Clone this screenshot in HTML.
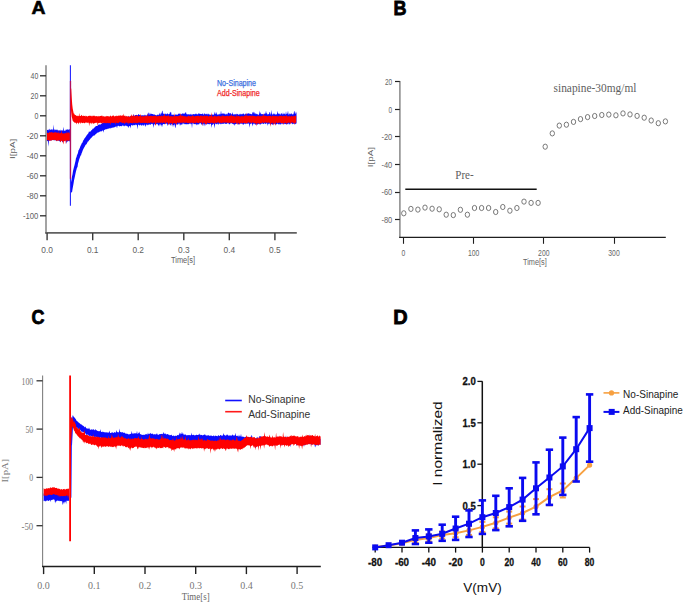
<!DOCTYPE html>
<html><head><meta charset="utf-8"><title>Figure</title>
<style>html,body{margin:0;padding:0;background:#fff;} body{width:685px;height:603px;overflow:hidden;font-family:"Liberation Sans",sans-serif;} svg{display:block;position:absolute;left:0;top:0;}</style>
</head><body>
<svg width="685" height="603" viewBox="0 0 685 603"><text x="31.6" y="14.4" font-family="Liberation Sans" font-size="19" font-weight="bold" fill="#000" text-anchor="start" textLength="14" lengthAdjust="spacingAndGlyphs" stroke="#000" stroke-width="0.6">A</text>
<text x="393.5" y="14.7" font-family="Liberation Sans" font-size="19.5" font-weight="bold" fill="#000" text-anchor="start" textLength="13" lengthAdjust="spacingAndGlyphs" stroke="#000" stroke-width="0.8">B</text>
<text x="31.4" y="324" font-family="Liberation Sans" font-size="20.5" font-weight="bold" fill="#000" text-anchor="start" textLength="13" lengthAdjust="spacingAndGlyphs" stroke="#000" stroke-width="0.8">C</text>
<text x="393.2" y="323.6" font-family="Liberation Sans" font-size="19.5" font-weight="bold" fill="#000" text-anchor="start" textLength="14.4" lengthAdjust="spacingAndGlyphs" stroke="#000" stroke-width="0.8">D</text>
<polygon points="46.9,130.1 47.4,130 47.9,129.7 48.4,130.6 48.9,129 49.4,128.8 49.9,130.5 50.4,129.6 50.9,129.7 51.4,129 51.9,129.9 52.4,128.9 52.9,130.4 53.4,124.4 53.9,129.9 54.4,129.1 54.9,130.4 55.4,129.8 55.9,129.5 56.4,130.2 56.9,129.2 57.4,129.7 57.9,130.4 58.4,130.8 58.9,129.9 59.4,130.2 59.9,130.8 60.4,130.8 60.9,129.5 61.4,131 61.9,130 62.4,130.7 62.9,130.2 63.4,126.8 63.9,131.1 64.4,130.9 64.9,129.9 65.4,131 65.9,129.3 66.4,129.7 66.9,129.7 67.4,129.6 67.9,129.3 68.4,129.4 68.9,129.9 69.4,129.1 69.9,129.6 69.9,141 69.4,141.5 68.9,141 68.4,141 67.9,141.5 67.4,141.6 66.9,141.6 66.4,143.9 65.9,140.2 65.4,140.2 64.9,141.4 64.4,140.8 63.9,140.5 63.4,140.6 62.9,141.8 62.4,142.6 61.9,140.7 61.4,140.3 60.9,141.8 60.4,141.5 59.9,141.8 59.4,141.1 58.9,140.7 58.4,140.2 57.9,141.3 57.4,140.1 56.9,140.2 56.4,141.5 55.9,139.9 55.4,140 54.9,141 54.4,139.7 53.9,139.6 53.4,140.2 52.9,139.8 52.4,140.2 51.9,139.6 51.4,140.8 50.9,140 50.4,140.7 49.9,140.5 49.4,140.6 48.9,140.9 48.4,146.7 47.9,141.3 47.4,141 46.9,141" fill="#0b0bff"/>
<line x1="70.4" y1="65.3" x2="70.4" y2="205.8" stroke="#2020ff" stroke-width="1.1" />
<polygon points="71,182.3 71.5,179.7 72,176.6 72.5,174.3 73,171 73.5,169 74,167.1 74.5,165.3 75,162.9 75.5,160.9 76,158 76.5,157.2 77,155 77.5,154.2 78,152.8 78.5,150.3 79,149.8 79.5,148.5 80,147.5 80.5,145.8 81,145.3 81.5,143.8 82,142.9 82.5,142.4 83,140.9 83.5,140.1 84,139.6 84.5,138.2 85,138 85.5,136.9 86,136.6 86.5,135.6 87,135.1 87.5,134.3 88,133.7 88.5,133 89,131.3 89.5,131.7 90,131.9 90.5,131.3 91,130.9 91.5,129.9 92,130.1 92.5,129.1 93,128.4 93.5,128.7 94,128 94.5,127.5 95,126.9 95.5,126.6 96,126.1 96.5,126 97,126.1 97.5,125.9 98,124.9 98.5,124.7 99,124.5 99.5,124.4 100,124.4 100.5,124.4 101,124.3 101.5,123.8 102,123 102.5,123 103,122.7 103.5,123 104,122.5 104.5,122 105,122 105.5,121.7 106,121.4 106.5,121.7 107,120.2 107.5,120.2 108,120.5 108.5,121.5 109,121.1 109.5,119.1 110,119.9 110.5,120.5 111,120.7 111.5,119.6 112,119.4 112.5,119.5 113,119.7 113.5,118.8 114,119.7 114.5,119 115,119.1 115.5,118.7 116,119 116.5,117.9 117,118.4 117.5,118.7 118,117.8 118.5,117.4 119,117.6 119.5,117.7 120,117.7 120.5,117.4 121,117.2 121.5,117.9 122,116.6 122.5,117.2 123,116.5 123.5,117.6 124,116.9 124.5,116.5 125,117.2 125.5,116.9 126,116.4 126.5,116.5 127,117.6 127.5,117.5 128,116.4 128.5,116.3 129,116.7 129.5,116.8 130,116.2 130.5,115.8 131,117 131.5,116.3 132,115.6 132.5,116.5 133,115.6 133.5,113.7 134,116.5 134.5,115.7 135,115.1 135.5,115 136,115.3 136.5,114.8 137,114.9 137.5,115.5 138,114.8 138.5,113.9 139,114.6 139.5,114.9 140,115 140.5,115.4 141,115.8 141.5,115 142,115.8 142.5,115.1 143,115.6 143.5,114.9 144,115.9 144.5,115.1 145,114.5 145.5,115.6 146,115.5 146.5,115.2 147,115.5 147.5,113.1 148,115.2 148.5,112.8 149,112.4 149.5,115.2 150,112.5 150.5,114.4 151,113.8 151.5,113.7 152,113.9 152.5,114.1 153,114.2 153.5,114.2 154,115 154.5,114 155,115.3 155.5,114.8 156,115.3 156.5,115.4 157,114.8 157.5,115.3 158,113.8 158.5,115.2 159,115.1 159.5,112.6 160,114.7 160.5,114.4 161,112.4 161.5,113.9 162,111.3 162.5,110.5 163,113.8 163.5,113.6 164,113.9 164.5,114.4 165,112.9 165.5,113.9 166,114.2 166.5,114.3 167,113.4 167.5,113.5 168,113.8 168.5,114.4 169,114.1 169.5,113.9 170,112 170.5,112.8 171,111.5 171.5,114.4 172,115.2 172.5,114.7 173,114.3 173.5,114.8 174,114.9 174.5,115.4 175,115.3 175.5,114.6 176,114 176.5,115 177,114.5 177.5,115 178,114.1 178.5,113.7 179,113.4 179.5,113.5 180,114.2 180.5,114.6 181,113.6 181.5,114.4 182,113.8 182.5,113.2 183,113.7 183.5,113.6 184,113.8 184.5,113.5 185,113.5 185.5,112.4 186,112.1 186.5,114.4 187,113.8 187.5,114.4 188,114.5 188.5,114.1 189,114.8 189.5,114.3 190,114.5 190.5,114.6 191,113.6 191.5,114.9 192,114.3 192.5,114.4 193,114.6 193.5,114 194,114 194.5,114.2 195,114.5 195.5,113.4 196,113.9 196.5,113.6 197,114.7 197.5,114 198,114.6 198.5,113.4 199,113.1 199.5,114 200,113.8 200.5,114.1 201,114 201.5,114 202,114.2 202.5,113.4 203,113.6 203.5,114.8 204,114.6 204.5,113 205,114 205.5,114.5 206,113.6 206.5,114.6 207,113.6 207.5,114.1 208,114.9 208.5,113.6 209,113.9 209.5,114.8 210,114.6 210.5,114.8 211,114.9 211.5,114.5 212,114.8 212.5,114.3 213,115 213.5,114.5 214,114.7 214.5,111.4 215,114.2 215.5,114 216,112.1 216.5,113.1 217,114.6 217.5,114.6 218,114.8 218.5,114.1 219,114.9 219.5,113.5 220,114.6 220.5,113.9 221,110.6 221.5,113.8 222,114 222.5,113.5 223,113.2 223.5,113.4 224,114.1 224.5,113.2 225,114.5 225.5,114.5 226,113.4 226.5,113.9 227,114.8 227.5,113.9 228,112.7 228.5,112.6 229,113.2 229.5,113.4 230,113.3 230.5,113.3 231,113.5 231.5,114.6 232,114.5 232.5,112.1 233,114.2 233.5,114.6 234,114.5 234.5,114.4 235,113.7 235.5,114.3 236,114.8 236.5,113.4 237,114.7 237.5,113.7 238,114.1 238.5,114.9 239,114.6 239.5,114.4 240,113.5 240.5,114.1 241,114.8 241.5,113.8 242,114.4 242.5,113.9 243,113.6 243.5,113.6 244,113.9 244.5,114.8 245,114.2 245.5,113.2 246,114.4 246.5,113.6 247,114.2 247.5,113.4 248,113.3 248.5,113.1 249,114.2 249.5,113.5 250,113.4 250.5,114.1 251,114.1 251.5,114.1 252,114.8 252.5,111.8 253,113.1 253.5,111.5 254,114 254.5,111.8 255,114.5 255.5,112.8 256,114.5 256.5,113.8 257,113.7 257.5,114.2 258,114.8 258.5,114.7 259,114.6 259.5,110.6 260,114.6 260.5,112.1 261,113.8 261.5,114 262,114.5 262.5,114.1 263,113.9 263.5,114.5 264,114.4 264.5,113.2 265,114.1 265.5,113.3 266,110.8 266.5,113.6 267,113.2 267.5,114.4 268,114.4 268.5,114.1 269,114.2 269.5,112 270,112.3 270.5,114.2 271,114.7 271.5,109.8 272,114.1 272.5,115 273,113.6 273.5,113.4 274,114.8 274.5,113.7 275,113.5 275.5,114.8 276,114.4 276.5,114.5 277,113.7 277.5,110.8 278,113.7 278.5,113.3 279,114.3 279.5,113.3 280,114.7 280.5,114.5 281,113.2 281.5,113.2 282,113.9 282.5,114.8 283,112.3 283.5,114.5 284,113.6 284.5,113.6 285,114.6 285.5,114.6 286,111.3 286.5,114.2 287,113.8 287.5,113.5 288,110.5 288.5,114.4 289,114.8 289.5,113.8 290,113.3 290.5,114.4 291,113.5 291.5,113.3 292,114.5 292.5,114.2 293,114.5 293.5,114 294,111.7 294.5,110.8 295,114 295.5,113.5 296,111.6 296.5,113.6 296.5,123.1 296,124 295.5,124.2 295,123.3 294.5,124.2 294,123.2 293.5,124.1 293,123.8 292.5,124.5 292,123.2 291.5,123.6 291,123.1 290.5,123.6 290,123.6 289.5,124.2 289,124.7 288.5,123.3 288,123.6 287.5,124.4 287,123.7 286.5,124.5 286,124.3 285.5,123.8 285,124.3 284.5,124 284,123.3 283.5,124.2 283,123.4 282.5,124.5 282,123 281.5,123.7 281,124.4 280.5,124 280,125.1 279.5,124 279,123.7 278.5,124.5 278,124.3 277.5,123.2 277,124 276.5,124.2 276,124.6 275.5,124.6 275,124.5 274.5,123.3 274,124.3 273.5,124.1 273,124.7 272.5,124.8 272,124.1 271.5,124 271,124.4 270.5,124.7 270,123.5 269.5,123.5 269,124.4 268.5,123.9 268,123.3 267.5,126 267,123.1 266.5,123.4 266,123.4 265.5,124.2 265,123.4 264.5,122.9 264,124 263.5,123.7 263,124.2 262.5,123 262,123.9 261.5,123.4 261,123.7 260.5,124.4 260,124.7 259.5,124.1 259,123.4 258.5,124.2 258,123.9 257.5,124.9 257,124 256.5,124 256,124.9 255.5,124.8 255,123.7 254.5,123.4 254,124.8 253.5,123.3 253,124.2 252.5,126.4 252,123.4 251.5,123.3 251,123.8 250.5,123.8 250,124.4 249.5,127.7 249,123.3 248.5,123.5 248,124.1 247.5,123.3 247,124.2 246.5,123.2 246,123.3 245.5,124.4 245,123.3 244.5,123.7 244,124 243.5,124.4 243,125 242.5,123.7 242,123.4 241.5,124.1 241,123.3 240.5,124 240,123.3 239.5,124.6 239,124.2 238.5,124.5 238,124.3 237.5,123.4 237,123.6 236.5,123.5 236,124.2 235.5,124.3 235,123.9 234.5,126.1 234,123.7 233.5,124.6 233,124.3 232.5,123.5 232,124.1 231.5,123.1 231,123.1 230.5,123.4 230,123.8 229.5,124.2 229,124.4 228.5,123 228,123.4 227.5,123.2 227,123.2 226.5,124 226,124.1 225.5,124 225,123.2 224.5,123.2 224,124.1 223.5,123.4 223,124 222.5,123.5 222,124.3 221.5,123.9 221,123.2 220.5,124.6 220,123.8 219.5,123.8 219,123.3 218.5,124.6 218,124.7 217.5,123.6 217,123.7 216.5,124.6 216,123.7 215.5,123.5 215,124.5 214.5,128.6 214,124.5 213.5,123.4 213,124.4 212.5,124.7 212,124.8 211.5,128 211,123.9 210.5,123.7 210,124.1 209.5,124.5 209,124 208.5,124.3 208,124 207.5,123.8 207,124.4 206.5,124.6 206,123.9 205.5,124.1 205,126.5 204.5,124.7 204,123.6 203.5,123.9 203,126.5 202.5,123.7 202,124.6 201.5,124.4 201,124.2 200.5,123.1 200,123.1 199.5,123.6 199,124.6 198.5,124.3 198,124.5 197.5,124.1 197,125.6 196.5,124.4 196,124.3 195.5,124.2 195,123.9 194.5,124.1 194,124.5 193.5,123.4 193,123.3 192.5,123.6 192,128.4 191.5,123.6 191,124.4 190.5,123.4 190,123.5 189.5,123.5 189,124.3 188.5,124.3 188,124 187.5,124.4 187,123.7 186.5,124.4 186,124.2 185.5,124.1 185,124.4 184.5,123.5 184,124.5 183.5,123.3 183,123.5 182.5,123.4 182,125.3 181.5,124.2 181,124.6 180.5,124.4 180,126.1 179.5,123.8 179,123.3 178.5,123.8 178,124.7 177.5,124.6 177,124.4 176.5,123.5 176,124.4 175.5,128.3 175,126.9 174.5,124.1 174,125.1 173.5,125 173,127.3 172.5,124.5 172,124.1 171.5,124.1 171,126.3 170.5,124.6 170,125 169.5,124.3 169,123.4 168.5,124.4 168,123.7 167.5,126.2 167,124 166.5,123.5 166,123.5 165.5,123.4 165,124.3 164.5,124.3 164,124.1 163.5,124.1 163,124.2 162.5,124.9 162,127.5 161.5,124.5 161,126.1 160.5,124.2 160,124.3 159.5,124.6 159,126.4 158.5,125.2 158,124.9 157.5,123.9 157,123.8 156.5,124.4 156,123.8 155.5,124.7 155,125 154.5,124.1 154,124.3 153.5,128.1 153,124.9 152.5,123.7 152,124 151.5,123.8 151,124.3 150.5,124.8 150,124.8 149.5,123.9 149,125.3 148.5,124.7 148,124.3 147.5,125.4 147,124.8 146.5,124.2 146,125.7 145.5,127 145,124.5 144.5,124.6 144,125.9 143.5,125.2 143,125.3 142.5,124.6 142,125.9 141.5,125.2 141,125.4 140.5,124.6 140,125.3 139.5,125.4 139,125.1 138.5,124.4 138,125.3 137.5,129.5 137,125.3 136.5,124.4 136,125.4 135.5,124.4 135,124.8 134.5,125.3 134,125.2 133.5,124.8 133,125.8 132.5,125.5 132,125.1 131.5,125.1 131,125.8 130.5,128.4 130,126 129.5,126.2 129,125.9 128.5,128.2 128,126.4 127.5,126.4 127,125.8 126.5,126.2 126,125.2 125.5,126.1 125,125.3 124.5,126.2 124,126.3 123.5,126.1 123,125.1 122.5,125.4 122,126.2 121.5,126.2 121,126 120.5,126.1 120,126.2 119.5,126.5 119,126.1 118.5,125.8 118,125.8 117.5,126 117,128.6 116.5,126.3 116,126.5 115.5,126.8 115,126.8 114.5,127.2 114,127.5 113.5,127.6 113,127.6 112.5,127.6 112,128.3 111.5,128.1 111,127.6 110.5,128.6 110,128.5 109.5,128 109,128.8 108.5,128.3 108,129.3 107.5,128.6 107,129.2 106.5,129.1 106,129.6 105.5,129.3 105,129.6 104.5,129.9 104,130 103.5,132.7 103,130.2 102.5,130.4 102,131.2 101.5,131.3 101,131.6 100.5,131.2 100,131.6 99.5,131.7 99,132.3 98.5,132.3 98,132.8 97.5,132.6 97,133 96.5,133.5 96,134 95.5,134.2 95,135 94.5,135.4 94,135.6 93.5,135.8 93,135.8 92.5,136.6 92,137.2 91.5,137.8 91,137.8 90.5,138.7 90,139.3 89.5,140 89,140.3 88.5,141.4 88,141.3 87.5,142.2 87,143.2 86.5,144.2 86,144.5 85.5,145 85,146 84.5,147.1 84,147.8 83.5,148.7 83,149.7 82.5,150.9 82,152.5 81.5,153.6 81,155.6 80.5,155.6 80,157.3 79.5,158.4 79,159.9 78.5,162.1 78,163.6 77.5,167.2 77,167.4 76.5,169.4 76,171.3 75.5,173.5 75,176.1 74.5,178.2 74,180.5 73.5,183.7 73,186.5 72.5,189.2 72,192.4 71.5,192.2 71,192.4" fill="#0b0bff"/>
<polygon points="46.9,133.1 47.4,133.1 47.9,132.4 48.4,132.9 48.9,133.2 49.4,132.1 49.9,131.9 50.4,132.4 50.9,132.5 51.4,131.9 51.9,132.2 52.4,132.4 52.9,132.6 53.4,132.8 53.9,132.7 54.4,131.7 54.9,133 55.4,132.2 55.9,132 56.4,132.7 56.9,132.5 57.4,132.6 57.9,133 58.4,133.3 58.9,130.5 59.4,133.5 59.9,133.2 60.4,133.1 60.9,133.1 61.4,130.3 61.9,132.8 62.4,133.4 62.9,133.3 63.4,133.6 63.9,133.4 64.4,133.3 64.9,133.5 65.4,133.1 65.9,133 66.4,133.4 66.9,131 67.4,133.3 67.9,132.4 68.4,132.2 68.9,132.7 69.4,133.3 69.9,132.7 69.9,140.4 69.4,140.2 68.9,140.9 68.4,140.7 67.9,140.4 67.4,140.7 66.9,140.3 66.4,141.2 65.9,144.1 65.4,140.3 64.9,141.3 64.4,140.8 63.9,140.9 63.4,144.6 62.9,142.5 62.4,141.1 61.9,140.7 61.4,140.7 60.9,141.6 60.4,142.6 59.9,140.6 59.4,140.2 58.9,140.8 58.4,140.4 57.9,140.4 57.4,140.7 56.9,140.8 56.4,140.7 55.9,140.8 55.4,139.9 54.9,139.8 54.4,140.1 53.9,140 53.4,140.2 52.9,140.1 52.4,139.8 51.9,140.5 51.4,140.6 50.9,140.2 50.4,140.7 49.9,140.8 49.4,140.8 48.9,140.2 48.4,140.5 47.9,140.1 47.4,140.3 46.9,140.9" fill="#ff0000"/>
<line x1="70.5" y1="178.8" x2="70.5" y2="80.8" stroke="#b01060" stroke-width="1.3" />
<polygon points="70.7,88.7 71.2,88.6 71.7,97 72.2,104.3 72.7,108.6 73.2,111.1 73.7,113.4 74.2,113.5 74.7,114.7 75.2,115.1 75.7,115.1 76.2,116 76.7,115.4 77.2,116.2 77.7,115.6 78.2,115.9 78.7,116.2 79.2,112.9 79.7,115.9 80.2,116.1 80.7,115.9 81.2,115.3 81.7,114.8 82.2,116.2 82.7,115.7 83.2,116 83.7,115.6 84.2,116 84.7,116.1 85.2,115.4 85.7,116.4 86.2,116.2 86.7,115.7 87.2,116.4 87.7,116.4 88.2,115.8 88.7,116 89.2,116.1 89.7,115.5 90.2,116.1 90.7,115.5 91.2,116.4 91.7,115.7 92.2,115.5 92.7,116.6 93.2,115.5 93.7,116.1 94.2,115.5 94.7,116 95.2,116.5 95.7,116.1 96.2,116.3 96.7,116.1 97.2,116.3 97.7,116.5 98.2,115.8 98.7,116.4 99.2,116.4 99.7,116 100.2,116.1 100.7,115.9 101.2,115.6 101.7,115.9 102.2,115.6 102.7,116.6 103.2,116.3 103.7,116.3 104.2,116.3 104.7,116.7 105.2,116.5 105.7,116.4 106.2,115.8 106.7,116.6 107.2,116 107.7,116.2 108.2,116 108.7,116.6 109.2,116.5 109.7,116.6 110.2,115.7 110.7,115.6 111.2,116.6 111.7,116.5 112.2,115.6 112.7,116.1 113.2,115.5 113.7,115.5 114.2,116.3 114.7,116.4 115.2,116.3 115.7,115.8 116.2,116.2 116.7,115.5 117.2,115.8 117.7,116.3 118.2,115.6 118.7,115.8 119.2,115.6 119.7,115.8 120.2,115.4 120.7,115.2 121.2,115.9 121.7,115.5 122.2,115.5 122.7,115.3 123.2,116 123.7,113.5 124.2,115.9 124.7,115.8 125.2,115.5 125.7,116.4 126.2,116.6 126.7,115.7 127.2,116.7 127.7,116.3 128.2,115.8 128.7,116.7 129.2,116.7 129.7,116.7 130.2,116.4 130.7,115.7 131.2,115.8 131.7,114.1 132.2,116.5 132.7,115.6 133.2,116.6 133.7,114.2 134.2,115.7 134.7,116.1 135.2,116.4 135.7,115.6 136.2,115.8 136.7,115.4 137.2,115.5 137.7,115.5 138.2,116.4 138.7,116.3 139.2,115.7 139.7,116 140.2,115.8 140.7,113.7 141.2,116.3 141.7,116.4 142.2,116.5 142.7,115.9 143.2,115.8 143.7,116.6 144.2,116.7 144.7,115.7 145.2,115.9 145.7,115.6 146.2,115.9 146.7,115.9 147.2,116.6 147.7,114 148.2,115.6 148.7,116.4 149.2,115.9 149.7,116.1 150.2,116 150.7,115.6 151.2,116.3 151.7,115.6 152.2,116 152.7,116.2 153.2,115.8 153.7,115.9 154.2,116.2 154.7,115.8 155.2,115.5 155.7,115.4 156.2,116 156.7,116.5 157.2,116.5 157.7,115.7 158.2,116.1 158.7,116.3 159.2,115.8 159.7,116.1 160.2,115.7 160.7,116.5 161.2,115.9 161.7,115.5 162.2,116.1 162.7,116.4 163.2,115.4 163.7,115.9 164.2,113.6 164.7,115.3 165.2,115.8 165.7,116.3 166.2,116.1 166.7,115.7 167.2,115.6 167.7,116.4 168.2,114.8 168.7,116 169.2,116.4 169.7,116.2 170.2,116 170.7,116.6 171.2,116.1 171.7,116.2 172.2,115.9 172.7,116.8 173.2,116.4 173.7,116.2 174.2,112.9 174.7,116.6 175.2,116.3 175.7,116 176.2,116.2 176.7,115.9 177.2,116.1 177.7,116.2 178.2,116.3 178.7,115.7 179.2,115.9 179.7,115.4 180.2,115.4 180.7,113.1 181.2,115.9 181.7,115.4 182.2,115.7 182.7,115.5 183.2,116 183.7,116.3 184.2,116.1 184.7,116.2 185.2,116.4 185.7,116.3 186.2,116.5 186.7,116.5 187.2,116.4 187.7,116.4 188.2,115.6 188.7,115.9 189.2,116.3 189.7,116.3 190.2,116 190.7,116.4 191.2,116.3 191.7,116.3 192.2,115.5 192.7,115.5 193.2,115.8 193.7,116 194.2,116.4 194.7,116.5 195.2,116.1 195.7,115.9 196.2,116.1 196.7,116 197.2,116.1 197.7,115.7 198.2,115.8 198.7,115.8 199.2,116.2 199.7,116.2 200.2,115.5 200.7,115.5 201.2,116.3 201.7,115.4 202.2,115.5 202.7,116.2 203.2,116.2 203.7,116.1 204.2,116 204.7,114.5 205.2,116.6 205.7,115.9 206.2,115.8 206.7,115.8 207.2,115.8 207.7,115.7 208.2,116.4 208.7,116.6 209.2,115.8 209.7,116.1 210.2,115.6 210.7,115.9 211.2,116.1 211.7,112.1 212.2,116.6 212.7,116.5 213.2,116.6 213.7,116.4 214.2,115.6 214.7,115.8 215.2,116.2 215.7,116.3 216.2,116.6 216.7,116.2 217.2,115.9 217.7,116.6 218.2,115.5 218.7,116 219.2,116.6 219.7,115.7 220.2,116.4 220.7,116.2 221.2,116.3 221.7,116.3 222.2,114.6 222.7,116.4 223.2,115.7 223.7,115.7 224.2,116.2 224.7,116.3 225.2,115.8 225.7,116.2 226.2,115.7 226.7,116.3 227.2,115.8 227.7,115.8 228.2,115.8 228.7,116.5 229.2,116.1 229.7,115.8 230.2,115.6 230.7,116.1 231.2,114.1 231.7,116.1 232.2,115.8 232.7,116 233.2,116.3 233.7,115.7 234.2,115.5 234.7,116.5 235.2,116.4 235.7,116.4 236.2,116.5 236.7,114.5 237.2,116 237.7,116.5 238.2,116.1 238.7,115.7 239.2,115.9 239.7,116.4 240.2,116.6 240.7,116.4 241.2,116.2 241.7,116 242.2,115.7 242.7,116.4 243.2,116.5 243.7,116.3 244.2,115.9 244.7,115.5 245.2,116 245.7,115.4 246.2,112.6 246.7,116.4 247.2,115.5 247.7,115.8 248.2,115.8 248.7,116 249.2,115.4 249.7,115.8 250.2,115.6 250.7,116 251.2,115.4 251.7,116.2 252.2,115.6 252.7,115.8 253.2,115.9 253.7,116.1 254.2,116 254.7,116.1 255.2,116.1 255.7,116.6 256.2,116.8 256.7,116.1 257.2,115.7 257.7,116.2 258.2,114.9 258.7,116.4 259.2,116 259.7,116.3 260.2,116.4 260.7,115.5 261.2,116.4 261.7,115.8 262.2,115.8 262.7,115.9 263.2,113.2 263.7,116.1 264.2,115.6 264.7,115.8 265.2,115.8 265.7,116 266.2,115.7 266.7,116 267.2,116.2 267.7,116.2 268.2,115.9 268.7,115.7 269.2,115.9 269.7,116 270.2,115.7 270.7,115.7 271.2,116.6 271.7,116.5 272.2,115.6 272.7,115.7 273.2,116.3 273.7,115.5 274.2,116.6 274.7,115.8 275.2,116 275.7,116.1 276.2,115.8 276.7,116.4 277.2,115.6 277.7,116.4 278.2,116.2 278.7,116.2 279.2,116.1 279.7,115.7 280.2,115.9 280.7,115.8 281.2,115.8 281.7,115.8 282.2,115.9 282.7,116.4 283.2,115.7 283.7,115.8 284.2,115.9 284.7,115.8 285.2,116.6 285.7,116 286.2,115.7 286.7,114.7 287.2,116.6 287.7,116.3 288.2,116.5 288.7,116.1 289.2,115.5 289.7,116.5 290.2,116.4 290.7,116.4 291.2,116.2 291.7,115.5 292.2,116.4 292.7,116.2 293.2,116.4 293.7,115.3 294.2,116.4 294.7,115.9 295.2,115.7 295.7,115.4 296.2,115.4 296.2,122.7 295.7,123.3 295.2,122.3 294.7,125.3 294.2,122.6 293.7,123.2 293.2,123 292.7,122.2 292.2,122.7 291.7,122.8 291.2,122.3 290.7,124.4 290.2,122.6 289.7,123.1 289.2,122.5 288.7,122.5 288.2,122.8 287.7,123 287.2,123.1 286.7,124.9 286.2,122.6 285.7,123.3 285.2,122.6 284.7,123.2 284.2,122.8 283.7,125.3 283.2,122.8 282.7,123 282.2,123.1 281.7,123.3 281.2,123.2 280.7,122.5 280.2,123 279.7,122.3 279.2,123.2 278.7,122.9 278.2,122.4 277.7,123.3 277.2,123.1 276.7,122.5 276.2,122.5 275.7,123.1 275.2,126 274.7,123.3 274.2,122.6 273.7,125.7 273.2,123.1 272.7,123.5 272.2,122.6 271.7,123 271.2,123.5 270.7,127 270.2,123 269.7,122.9 269.2,122.8 268.7,122.6 268.2,122.6 267.7,123.2 267.2,122.4 266.7,122.8 266.2,122.4 265.7,122.6 265.2,122.5 264.7,122.3 264.2,123.1 263.7,123 263.2,123.1 262.7,122.2 262.2,122.5 261.7,123.2 261.2,123.1 260.7,122.9 260.2,123.5 259.7,123.4 259.2,124.2 258.7,123.5 258.2,122.8 257.7,123.5 257.2,123.2 256.7,126.4 256.2,123 255.7,123.6 255.2,123.3 254.7,123.2 254.2,122.9 253.7,122.6 253.2,123 252.7,122.4 252.2,122.4 251.7,122.8 251.2,123.4 250.7,122.5 250.2,122.7 249.7,123.2 249.2,122.4 248.7,122.4 248.2,122.3 247.7,122.7 247.2,123.3 246.7,123.7 246.2,123 245.7,123.2 245.2,123.3 244.7,123.1 244.2,123.1 243.7,122.4 243.2,123 242.7,123.4 242.2,123 241.7,123.1 241.2,122.5 240.7,123.1 240.2,123.2 239.7,124.4 239.2,123.4 238.7,123.4 238.2,122.7 237.7,122.4 237.2,125.3 236.7,123.2 236.2,123.4 235.7,122.5 235.2,122.6 234.7,123 234.2,123.4 233.7,123.2 233.2,123.1 232.7,123 232.2,122.6 231.7,123.3 231.2,122.6 230.7,122.7 230.2,122.8 229.7,123 229.2,122.8 228.7,122.4 228.2,123.2 227.7,122.7 227.2,122.8 226.7,122.8 226.2,122.3 225.7,122.4 225.2,123 224.7,122.3 224.2,122.7 223.7,123.1 223.2,122.3 222.7,122.8 222.2,122.8 221.7,123.2 221.2,122.8 220.7,122.8 220.2,122.7 219.7,123.3 219.2,123.1 218.7,122.6 218.2,122.5 217.7,122.5 217.2,122.5 216.7,123.2 216.2,123.1 215.7,122.6 215.2,122.5 214.7,123.3 214.2,124.1 213.7,122.7 213.2,122.9 212.7,123.2 212.2,122.8 211.7,122.4 211.2,123 210.7,123.2 210.2,122.7 209.7,123.2 209.2,123.3 208.7,122.9 208.2,123.2 207.7,122.3 207.2,123.2 206.7,124.5 206.2,123.4 205.7,124.4 205.2,123.4 204.7,123.4 204.2,122.4 203.7,122.9 203.2,122.6 202.7,126 202.2,122.7 201.7,122.6 201.2,122.8 200.7,122.6 200.2,123.1 199.7,122.3 199.2,123.1 198.7,123.1 198.2,123.2 197.7,122.9 197.2,122.7 196.7,122.3 196.2,122.7 195.7,123.4 195.2,123.2 194.7,122.6 194.2,123.1 193.7,123.3 193.2,123.3 192.7,122.9 192.2,122.6 191.7,122.9 191.2,122.6 190.7,123.3 190.2,122.5 189.7,123.3 189.2,122.8 188.7,122.7 188.2,123.4 187.7,123 187.2,123.1 186.7,122.4 186.2,122.6 185.7,123.1 185.2,122.8 184.7,122.9 184.2,122.4 183.7,122.7 183.2,122.3 182.7,123.3 182.2,122.6 181.7,122.4 181.2,123 180.7,122.5 180.2,123.2 179.7,122.4 179.2,122.8 178.7,123.2 178.2,122.5 177.7,122.6 177.2,122.7 176.7,123 176.2,125.4 175.7,123.5 175.2,123.5 174.7,123 174.2,123.3 173.7,122.9 173.2,123.2 172.7,123.6 172.2,125.4 171.7,123 171.2,122.8 170.7,123.4 170.2,123.1 169.7,122.9 169.2,123.4 168.7,125.6 168.2,123.3 167.7,123.3 167.2,122.3 166.7,122.4 166.2,122.5 165.7,123.2 165.2,124.6 164.7,122.2 164.2,123.1 163.7,122.5 163.2,122.5 162.7,123 162.2,123.3 161.7,122.5 161.2,122.5 160.7,123.3 160.2,122.4 159.7,122.4 159.2,123 158.7,123.2 158.2,122.5 157.7,122.4 157.2,123 156.7,123.2 156.2,122.6 155.7,125.9 155.2,124.4 154.7,122.4 154.2,122.3 153.7,123.3 153.2,122.2 152.7,123.6 152.2,122.8 151.7,122.7 151.2,122.6 150.7,122.4 150.2,122.4 149.7,123.3 149.2,123 148.7,122.4 148.2,123.3 147.7,123.4 147.2,122.9 146.7,123.1 146.2,122.7 145.7,123 145.2,123 144.7,122.8 144.2,123.1 143.7,123 143.2,122.6 142.7,123.1 142.2,123 141.7,123.1 141.2,122.8 140.7,123.2 140.2,122.7 139.7,122.5 139.2,122.6 138.7,122.4 138.2,123 137.7,122.7 137.2,123.3 136.7,122.9 136.2,122.9 135.7,122.6 135.2,123.2 134.7,122.7 134.2,123.4 133.7,122.4 133.2,122.8 132.7,123.5 132.2,123.3 131.7,123 131.2,123.1 130.7,123 130.2,122.8 129.7,123.3 129.2,123.2 128.7,122.6 128.2,124.9 127.7,123.1 127.2,122.7 126.7,122.5 126.2,122.7 125.7,122.4 125.2,123.2 124.7,124.2 124.2,123 123.7,122.6 123.2,123.1 122.7,123.2 122.2,122.9 121.7,122.4 121.2,122.5 120.7,122.6 120.2,122.1 119.7,122.4 119.2,122.1 118.7,123.1 118.2,123.2 117.7,123.1 117.2,123.2 116.7,122.2 116.2,123.3 115.7,122.6 115.2,124.9 114.7,122.6 114.2,122.7 113.7,123 113.2,123.1 112.7,122.8 112.2,122.9 111.7,123 111.2,122.5 110.7,125.4 110.2,122.8 109.7,123.2 109.2,123 108.7,123.1 108.2,123.4 107.7,123 107.2,122.7 106.7,123.4 106.2,122.9 105.7,122.9 105.2,123.3 104.7,122.8 104.2,123.4 103.7,122.8 103.2,122.9 102.7,122.6 102.2,124.5 101.7,123 101.2,123 100.7,122.6 100.2,123.3 99.7,122.9 99.2,122.8 98.7,123.2 98.2,123.1 97.7,126.1 97.2,122.6 96.7,122.9 96.2,122.4 95.7,123.1 95.2,122.8 94.7,123.3 94.2,123.2 93.7,123.9 93.2,123.3 92.7,123.4 92.2,122.6 91.7,122.9 91.2,124.6 90.7,122.4 90.2,123.4 89.7,123 89.2,126.2 88.7,122.4 88.2,122.7 87.7,123.1 87.2,122.6 86.7,122.6 86.2,122.8 85.7,122.5 85.2,122.8 84.7,123.3 84.2,123.3 83.7,122.8 83.2,122.8 82.7,123.2 82.2,123.1 81.7,122.4 81.2,122.8 80.7,124 80.2,122.5 79.7,122.6 79.2,122.8 78.7,124.6 78.2,122.9 77.7,122.8 77.2,122.8 76.7,124.6 76.2,123.1 75.7,122.7 75.2,122.8 74.7,122.9 74.2,122.1 73.7,121.7 73.2,121.5 72.7,120.7 72.2,118.5 71.7,116.7 71.2,112.5 70.7,107.1" fill="#ff0000"/>
<line x1="46" y1="65.3" x2="46" y2="233.5" stroke="#858585" stroke-width="1.5" />
<line x1="45.2" y1="232.8" x2="296.8" y2="232.8" stroke="#606060" stroke-width="1.7" />
<line x1="40" y1="75.8" x2="46" y2="75.8" stroke="#2a2a2a" stroke-width="1.3" />
<text x="38.3" y="79.1" font-family="Liberation Sans" font-size="9" font-weight="normal" fill="#606060" text-anchor="end" textLength="7.7" lengthAdjust="spacingAndGlyphs" >40</text>
<line x1="40" y1="95.8" x2="46" y2="95.8" stroke="#2a2a2a" stroke-width="1.3" />
<text x="38.3" y="99.1" font-family="Liberation Sans" font-size="9" font-weight="normal" fill="#606060" text-anchor="end" textLength="7.7" lengthAdjust="spacingAndGlyphs" >20</text>
<line x1="40" y1="115.8" x2="46" y2="115.8" stroke="#2a2a2a" stroke-width="1.3" />
<text x="38.3" y="119.1" font-family="Liberation Sans" font-size="9" font-weight="normal" fill="#606060" text-anchor="end" textLength="3.9" lengthAdjust="spacingAndGlyphs" >0</text>
<line x1="40" y1="135.8" x2="46" y2="135.8" stroke="#2a2a2a" stroke-width="1.3" />
<text x="38.3" y="139.2" font-family="Liberation Sans" font-size="9" font-weight="normal" fill="#606060" text-anchor="end" textLength="11.6" lengthAdjust="spacingAndGlyphs" >-20</text>
<line x1="40" y1="155.8" x2="46" y2="155.8" stroke="#2a2a2a" stroke-width="1.3" />
<text x="38.3" y="159.2" font-family="Liberation Sans" font-size="9" font-weight="normal" fill="#606060" text-anchor="end" textLength="11.6" lengthAdjust="spacingAndGlyphs" >-40</text>
<line x1="40" y1="175.8" x2="46" y2="175.8" stroke="#2a2a2a" stroke-width="1.3" />
<text x="38.3" y="179.2" font-family="Liberation Sans" font-size="9" font-weight="normal" fill="#606060" text-anchor="end" textLength="11.6" lengthAdjust="spacingAndGlyphs" >-60</text>
<line x1="40" y1="195.8" x2="46" y2="195.8" stroke="#2a2a2a" stroke-width="1.3" />
<text x="38.3" y="199.2" font-family="Liberation Sans" font-size="9" font-weight="normal" fill="#606060" text-anchor="end" textLength="11.6" lengthAdjust="spacingAndGlyphs" >-80</text>
<line x1="40" y1="215.8" x2="46" y2="215.8" stroke="#2a2a2a" stroke-width="1.3" />
<text x="38.3" y="219.2" font-family="Liberation Sans" font-size="9" font-weight="normal" fill="#606060" text-anchor="end" textLength="15.4" lengthAdjust="spacingAndGlyphs" >-100</text>
<line x1="47.1" y1="233" x2="47.1" y2="240.2" stroke="#3a3a3a" stroke-width="1.4" />
<text x="47.1" y="252.8" font-family="Liberation Sans" font-size="9.5" font-weight="normal" fill="#606060" text-anchor="middle" textLength="11.6" lengthAdjust="spacingAndGlyphs" >0.0</text>
<line x1="92.7" y1="233" x2="92.7" y2="240.2" stroke="#3a3a3a" stroke-width="1.4" />
<text x="92.7" y="252.8" font-family="Liberation Sans" font-size="9.5" font-weight="normal" fill="#606060" text-anchor="middle" textLength="11.6" lengthAdjust="spacingAndGlyphs" >0.1</text>
<line x1="138.2" y1="233" x2="138.2" y2="240.2" stroke="#3a3a3a" stroke-width="1.4" />
<text x="138.2" y="252.8" font-family="Liberation Sans" font-size="9.5" font-weight="normal" fill="#606060" text-anchor="middle" textLength="11.6" lengthAdjust="spacingAndGlyphs" >0.2</text>
<line x1="183.8" y1="233" x2="183.8" y2="240.2" stroke="#3a3a3a" stroke-width="1.4" />
<text x="183.8" y="252.8" font-family="Liberation Sans" font-size="9.5" font-weight="normal" fill="#606060" text-anchor="middle" textLength="11.6" lengthAdjust="spacingAndGlyphs" >0.3</text>
<line x1="229.3" y1="233" x2="229.3" y2="240.2" stroke="#3a3a3a" stroke-width="1.4" />
<text x="229.3" y="252.8" font-family="Liberation Sans" font-size="9.5" font-weight="normal" fill="#606060" text-anchor="middle" textLength="11.6" lengthAdjust="spacingAndGlyphs" >0.4</text>
<line x1="274.9" y1="233" x2="274.9" y2="240.2" stroke="#3a3a3a" stroke-width="1.4" />
<text x="274.9" y="252.8" font-family="Liberation Sans" font-size="9.5" font-weight="normal" fill="#606060" text-anchor="middle" textLength="11.6" lengthAdjust="spacingAndGlyphs" >0.5</text>
<text x="171" y="263" font-family="Liberation Sans" font-size="8.5" font-weight="normal" fill="#606060" text-anchor="start" textLength="24" lengthAdjust="spacingAndGlyphs" >Time[s]</text>
<text transform="translate(14.7,159) rotate(-90)" font-family="Liberation Sans" font-size="7.5" font-weight="normal" fill="#606060" textLength="20.3" lengthAdjust="spacingAndGlyphs">I[pA]</text>
<text x="217" y="86.4" font-family="Liberation Sans" font-size="8.4" font-weight="normal" fill="#3c6fe0" text-anchor="start" textLength="39" lengthAdjust="spacingAndGlyphs" stroke="#3c6fe0" stroke-width="0.25">No-Sinapine</text>
<text x="217" y="96.4" font-family="Liberation Sans" font-size="8.4" font-weight="normal" fill="#f02828" text-anchor="start" textLength="42.7" lengthAdjust="spacingAndGlyphs" stroke="#f02828" stroke-width="0.25">Add-Sinapine</text>
<ellipse cx="403.8" cy="213.3" rx="2.2" ry="2.6" fill="none" stroke="#6a6a6a" stroke-width="0.9"/>
<ellipse cx="410.9" cy="208.9" rx="2.2" ry="2.6" fill="none" stroke="#6a6a6a" stroke-width="0.9"/>
<ellipse cx="417.9" cy="209.6" rx="2.2" ry="2.6" fill="none" stroke="#6a6a6a" stroke-width="0.9"/>
<ellipse cx="425" cy="207.6" rx="2.2" ry="2.6" fill="none" stroke="#6a6a6a" stroke-width="0.9"/>
<ellipse cx="432.1" cy="208.7" rx="2.2" ry="2.6" fill="none" stroke="#6a6a6a" stroke-width="0.9"/>
<ellipse cx="439.2" cy="209.3" rx="2.2" ry="2.6" fill="none" stroke="#6a6a6a" stroke-width="0.9"/>
<ellipse cx="446.2" cy="214.7" rx="2.2" ry="2.6" fill="none" stroke="#6a6a6a" stroke-width="0.9"/>
<ellipse cx="453.3" cy="215.1" rx="2.2" ry="2.6" fill="none" stroke="#6a6a6a" stroke-width="0.9"/>
<ellipse cx="460.4" cy="209.8" rx="2.2" ry="2.6" fill="none" stroke="#6a6a6a" stroke-width="0.9"/>
<ellipse cx="467.4" cy="214.7" rx="2.2" ry="2.6" fill="none" stroke="#6a6a6a" stroke-width="0.9"/>
<ellipse cx="474.5" cy="208" rx="2.2" ry="2.6" fill="none" stroke="#6a6a6a" stroke-width="0.9"/>
<ellipse cx="481.6" cy="208" rx="2.2" ry="2.6" fill="none" stroke="#6a6a6a" stroke-width="0.9"/>
<ellipse cx="488.6" cy="208" rx="2.2" ry="2.6" fill="none" stroke="#6a6a6a" stroke-width="0.9"/>
<ellipse cx="495.7" cy="212" rx="2.2" ry="2.6" fill="none" stroke="#6a6a6a" stroke-width="0.9"/>
<ellipse cx="502.8" cy="207" rx="2.2" ry="2.6" fill="none" stroke="#6a6a6a" stroke-width="0.9"/>
<ellipse cx="509.9" cy="210.7" rx="2.2" ry="2.6" fill="none" stroke="#6a6a6a" stroke-width="0.9"/>
<ellipse cx="516.9" cy="208" rx="2.2" ry="2.6" fill="none" stroke="#6a6a6a" stroke-width="0.9"/>
<ellipse cx="524" cy="201.6" rx="2.2" ry="2.6" fill="none" stroke="#6a6a6a" stroke-width="0.9"/>
<ellipse cx="531.1" cy="202.9" rx="2.2" ry="2.6" fill="none" stroke="#6a6a6a" stroke-width="0.9"/>
<ellipse cx="538.1" cy="202.9" rx="2.2" ry="2.6" fill="none" stroke="#6a6a6a" stroke-width="0.9"/>
<ellipse cx="545.2" cy="146.7" rx="2.2" ry="2.6" fill="none" stroke="#6a6a6a" stroke-width="0.9"/>
<ellipse cx="552.3" cy="133.4" rx="2.2" ry="2.6" fill="none" stroke="#6a6a6a" stroke-width="0.9"/>
<ellipse cx="559.3" cy="125.6" rx="2.2" ry="2.6" fill="none" stroke="#6a6a6a" stroke-width="0.9"/>
<ellipse cx="566.4" cy="124.7" rx="2.2" ry="2.6" fill="none" stroke="#6a6a6a" stroke-width="0.9"/>
<ellipse cx="573.5" cy="121.9" rx="2.2" ry="2.6" fill="none" stroke="#6a6a6a" stroke-width="0.9"/>
<ellipse cx="580.5" cy="119.1" rx="2.2" ry="2.6" fill="none" stroke="#6a6a6a" stroke-width="0.9"/>
<ellipse cx="587.6" cy="117.1" rx="2.2" ry="2.6" fill="none" stroke="#6a6a6a" stroke-width="0.9"/>
<ellipse cx="594.7" cy="116" rx="2.2" ry="2.6" fill="none" stroke="#6a6a6a" stroke-width="0.9"/>
<ellipse cx="601.8" cy="115" rx="2.2" ry="2.6" fill="none" stroke="#6a6a6a" stroke-width="0.9"/>
<ellipse cx="608.8" cy="114.6" rx="2.2" ry="2.6" fill="none" stroke="#6a6a6a" stroke-width="0.9"/>
<ellipse cx="615.9" cy="115.3" rx="2.2" ry="2.6" fill="none" stroke="#6a6a6a" stroke-width="0.9"/>
<ellipse cx="623" cy="113.4" rx="2.2" ry="2.6" fill="none" stroke="#6a6a6a" stroke-width="0.9"/>
<ellipse cx="630" cy="114.4" rx="2.2" ry="2.6" fill="none" stroke="#6a6a6a" stroke-width="0.9"/>
<ellipse cx="637.1" cy="115.9" rx="2.2" ry="2.6" fill="none" stroke="#6a6a6a" stroke-width="0.9"/>
<ellipse cx="644.2" cy="117.7" rx="2.2" ry="2.6" fill="none" stroke="#6a6a6a" stroke-width="0.9"/>
<ellipse cx="651.2" cy="120.5" rx="2.2" ry="2.6" fill="none" stroke="#6a6a6a" stroke-width="0.9"/>
<ellipse cx="658.3" cy="123.2" rx="2.2" ry="2.6" fill="none" stroke="#6a6a6a" stroke-width="0.9"/>
<ellipse cx="665.4" cy="121.4" rx="2.2" ry="2.6" fill="none" stroke="#6a6a6a" stroke-width="0.9"/>
<line x1="405.3" y1="189.2" x2="536.7" y2="189.2" stroke="#111" stroke-width="1.6" />
<text x="455.3" y="179.2" font-family="Liberation Serif" font-size="12" font-weight="normal" fill="#606060" text-anchor="start" textLength="18.4" lengthAdjust="spacingAndGlyphs" >Pre-</text>
<text x="553.6" y="92.2" font-family="Liberation Serif" font-size="12" font-weight="normal" fill="#606060" text-anchor="start" textLength="82.8" lengthAdjust="spacingAndGlyphs" >sinapine-30mg/ml</text>
<line x1="399.9" y1="81" x2="399.9" y2="238" stroke="#888" stroke-width="1.5" />
<line x1="399.2" y1="237.4" x2="665.8" y2="237.4" stroke="#1e1e1e" stroke-width="1.2" />
<line x1="395" y1="81.5" x2="399.8" y2="81.5" stroke="#222" stroke-width="1.2" />
<text x="392.2" y="84.9" font-family="Liberation Sans" font-size="9" font-weight="normal" fill="#666" text-anchor="end" textLength="7.2" lengthAdjust="spacingAndGlyphs" >20</text>
<line x1="395" y1="109.5" x2="399.8" y2="109.5" stroke="#222" stroke-width="1.2" />
<text x="392.2" y="112.5" font-family="Liberation Sans" font-size="9" font-weight="normal" fill="#666" text-anchor="end" textLength="3.6" lengthAdjust="spacingAndGlyphs" >0</text>
<line x1="395" y1="136.5" x2="399.8" y2="136.5" stroke="#222" stroke-width="1.2" />
<text x="392.2" y="140.1" font-family="Liberation Sans" font-size="9" font-weight="normal" fill="#666" text-anchor="end" textLength="10.8" lengthAdjust="spacingAndGlyphs" >-20</text>
<line x1="395" y1="164.5" x2="399.8" y2="164.5" stroke="#222" stroke-width="1.2" />
<text x="392.2" y="167.7" font-family="Liberation Sans" font-size="9" font-weight="normal" fill="#666" text-anchor="end" textLength="10.8" lengthAdjust="spacingAndGlyphs" >-40</text>
<line x1="395" y1="192.5" x2="399.8" y2="192.5" stroke="#222" stroke-width="1.2" />
<text x="392.2" y="195.2" font-family="Liberation Sans" font-size="9" font-weight="normal" fill="#666" text-anchor="end" textLength="10.8" lengthAdjust="spacingAndGlyphs" >-60</text>
<line x1="395" y1="219.5" x2="399.8" y2="219.5" stroke="#222" stroke-width="1.2" />
<text x="392.2" y="222.8" font-family="Liberation Sans" font-size="9" font-weight="normal" fill="#666" text-anchor="end" textLength="10.8" lengthAdjust="spacingAndGlyphs" >-80</text>
<line x1="403.5" y1="237.5" x2="403.5" y2="243.8" stroke="#1e1e1e" stroke-width="1.1" />
<text x="403.4" y="255.5" font-family="Liberation Sans" font-size="9" font-weight="normal" fill="#666" text-anchor="middle" textLength="3.8" lengthAdjust="spacingAndGlyphs" >0</text>
<line x1="473.5" y1="237.5" x2="473.5" y2="243.8" stroke="#1e1e1e" stroke-width="1.1" />
<text x="473.6" y="255.5" font-family="Liberation Sans" font-size="9" font-weight="normal" fill="#666" text-anchor="middle" textLength="11.4" lengthAdjust="spacingAndGlyphs" >100</text>
<line x1="543.5" y1="237.5" x2="543.5" y2="243.8" stroke="#1e1e1e" stroke-width="1.1" />
<text x="543.8" y="255.5" font-family="Liberation Sans" font-size="9" font-weight="normal" fill="#666" text-anchor="middle" textLength="11.4" lengthAdjust="spacingAndGlyphs" >200</text>
<line x1="614.5" y1="237.5" x2="614.5" y2="243.8" stroke="#1e1e1e" stroke-width="1.1" />
<text x="614" y="255.5" font-family="Liberation Sans" font-size="9" font-weight="normal" fill="#666" text-anchor="middle" textLength="11.4" lengthAdjust="spacingAndGlyphs" >300</text>
<text x="523" y="264.6" font-family="Liberation Sans" font-size="8.5" font-weight="normal" fill="#666" text-anchor="start" textLength="23.7" lengthAdjust="spacingAndGlyphs" >Time[s]</text>
<text transform="translate(372.6,167.2) rotate(-90)" font-family="Liberation Sans" font-size="8" font-weight="normal" fill="#666" textLength="20.2" lengthAdjust="spacingAndGlyphs">I[pA]</text>
<polygon points="43.6,493.6 44.1,493.6 44.6,491.3 45.1,493.8 45.6,493.8 46.1,493.1 46.6,493.7 47.1,492.7 47.6,492.9 48.1,493.4 48.6,493.1 49.1,492.3 49.6,492.5 50.1,491.8 50.6,492.3 51.1,491.8 51.6,491.9 52.1,491.9 52.6,492.1 53.1,489.3 53.6,492.1 54.1,491.4 54.6,492 55.1,492.5 55.6,492 56.1,492.7 56.6,492.2 57.1,493.1 57.6,493.6 58.1,492.7 58.6,492.9 59.1,493.1 59.6,494.2 60.1,493.6 60.6,493.3 61.1,494.4 61.6,493.7 62.1,493.9 62.6,494.1 63.1,493.4 63.6,494.4 64.1,494.1 64.6,494 65.1,493.6 65.6,493.6 66.1,493.2 66.6,492.8 67.1,491.2 67.6,490.8 68.1,493.2 68.6,493.7 69.1,492.8 69.1,501 68.6,500.7 68.1,500.7 67.6,501 67.1,500.4 66.6,500.8 66.1,504.2 65.6,501.4 65.1,501.8 64.6,501.8 64.1,503.7 63.6,501.7 63.1,504.2 62.6,504.7 62.1,501.1 61.6,501 61.1,501.4 60.6,500.9 60.1,501 59.6,501.3 59.1,500.4 58.6,500.7 58.1,500.9 57.6,500.2 57.1,500.9 56.6,500.8 56.1,501.8 55.6,501.5 55.1,503.6 54.6,500.1 54.1,499.4 53.6,499.7 53.1,499 52.6,500 52.1,499.7 51.6,499.9 51.1,500.3 50.6,501.9 50.1,499.8 49.6,500.4 49.1,500.3 48.6,500.9 48.1,500.9 47.6,500.4 47.1,500.2 46.6,501.3 46.1,500.2 45.6,501.5 45.1,501.2 44.6,500.5 44.1,501.2 43.6,501" fill="#0b0bff"/>
<line x1="70.9" y1="497.7" x2="71.6" y2="417.5" stroke="#2020ff" stroke-width="1.0" />
<polygon points="71.5,427.1 72,420.7 72.5,415.8 73,415.2 73.5,416.4 74,417.1 74.5,417.4 75,418.2 75.5,418.8 76,419.4 76.5,420.7 77,420.9 77.5,421.4 78,421.8 78.5,422.6 79,422.8 79.5,423.2 80,423.5 80.5,424.2 81,424.2 81.5,424.4 82,425 82.5,425.2 83,425.9 83.5,425.7 84,426.6 84.5,427 85,427.4 85.5,426.2 86,427.8 86.5,428.4 87,428.2 87.5,428.5 88,429.1 88.5,428.7 89,427.5 89.5,428.7 90,429.7 90.5,430 91,429.3 91.5,429.3 92,430.1 92.5,429.6 93,429.6 93.5,428.9 94,430.1 94.5,429.8 95,430.8 95.5,428.7 96,430 96.5,430.3 97,430.4 97.5,431 98,431.1 98.5,431.2 99,431.3 99.5,430.9 100,431.4 100.5,429 101,432 101.5,432.1 102,431.7 102.5,431.6 103,432.5 103.5,431.7 104,431.9 104.5,432.3 105,432.4 105.5,432.3 106,432.5 106.5,432.3 107,432.6 107.5,432.5 108,432.5 108.5,432.7 109,432.3 109.5,430.5 110,432.9 110.5,433 111,433.1 111.5,432.7 112,431.9 112.5,432.6 113,432.7 113.5,432.7 114,432.9 114.5,432.1 115,432 115.5,432.8 116,432.5 116.5,430.1 117,431.8 117.5,432.3 118,432.2 118.5,432.4 119,432 119.5,428.4 120,431.8 120.5,432.1 121,432.3 121.5,432.4 122,432.1 122.5,432.5 123,432.1 123.5,432.9 124,433 124.5,432.4 125,432.9 125.5,433.7 126,433.4 126.5,433.5 127,434.2 127.5,433.8 128,433.8 128.5,434.5 129,434.5 129.5,434.2 130,433.9 130.5,433.8 131,434.3 131.5,430.8 132,433.7 132.5,433.7 133,432.6 133.5,433.8 134,433.7 134.5,433.3 135,433.1 135.5,433.6 136,433.3 136.5,433.6 137,430.8 137.5,433.7 138,434.1 138.5,432.6 139,433.3 139.5,431.5 140,434.3 140.5,433.9 141,434.6 141.5,434.7 142,434.6 142.5,434.9 143,434.9 143.5,434.6 144,435.2 144.5,434.8 145,434.5 145.5,434.5 146,433.7 146.5,434.2 147,434.4 147.5,434.6 148,432.5 148.5,434.2 149,433.9 149.5,433.8 150,433.5 150.5,432.8 151,433.9 151.5,433.8 152,433.7 152.5,433.4 153,434 153.5,434.4 154,434.4 154.5,434.2 155,433.9 155.5,434.5 156,434.4 156.5,434.1 157,433 157.5,434.7 158,434.6 158.5,434.9 159,434.5 159.5,434.1 160,434.2 160.5,434 161,433.9 161.5,433.7 162,434.3 162.5,433.9 163,433.6 163.5,431.8 164,434.3 164.5,433.5 165,433.6 165.5,433.5 166,434.5 166.5,434.4 167,434 167.5,434.1 168,434.5 168.5,434.7 169,434.4 169.5,435.3 170,435.2 170.5,435.1 171,435.2 171.5,434.6 172,435.4 172.5,436 173,435.9 173.5,435.6 174,435.4 174.5,436.2 175,435.9 175.5,435.6 176,435.9 176.5,435.9 177,435.3 177.5,435.1 178,435.3 178.5,435.3 179,434.6 179.5,432.2 180,435 180.5,432.8 181,434.2 181.5,433.8 182,431.4 182.5,434.3 183,433.1 183.5,434.3 184,435 184.5,434.5 185,434.5 185.5,434.5 186,434.7 186.5,435.5 187,435.3 187.5,435.2 188,434.9 188.5,435 189,435.5 189.5,435 190,435.1 190.5,435.2 191,435.5 191.5,432.5 192,435.3 192.5,435 193,434.8 193.5,434.8 194,435.2 194.5,435.3 195,435.4 195.5,435 196,435.2 196.5,434.5 197,435 197.5,435.1 198,435.1 198.5,434.5 199,434.7 199.5,433.3 200,435.5 200.5,434.8 201,434.7 201.5,435 202,435 202.5,435.4 203,435.2 203.5,434.9 204,434.8 204.5,434.8 205,434.1 205.5,435.4 206,434.9 206.5,435.6 207,435.9 207.5,435.2 208,435.3 208.5,435.3 209,435.5 209.5,436 210,435.4 210.5,435.4 211,436 211.5,435.3 212,436.3 212.5,435.9 213,436.1 213.5,435.5 214,435.6 214.5,436.4 215,435.7 215.5,435.5 216,436 216.5,436 217,435.8 217.5,436.4 218,435.6 218.5,434.9 219,436.1 219.5,435.9 220,435.5 220.5,435 221,435 221.5,435.7 222,435.7 222.5,435.4 223,435.5 223.5,433.1 224,434.6 224.5,435.2 225,435.3 225.5,435.9 226,435 226.5,435.5 227,434.1 227.5,435 228,435.3 228.5,435.7 229,435.5 229.5,435.6 230,435.6 230.5,435.2 231,435.9 231.5,435.4 232,435.2 232.5,434.2 233,435.5 233.5,435.4 234,435.3 234.5,435.4 235,435.5 235.5,432.8 236,435.4 236.5,435.9 237,436.1 237.5,435.6 238,436.4 238.5,436.5 239,434.4 239.5,436.3 240,436.5 240.5,436.2 241,433.7 241.5,436.4 242,436.9 242.5,436.3 243,437 243.5,436.6 244,437.3 244.5,437.3 245,437 245.5,436.7 246,436.9 246.5,436.8 247,437.2 247.5,437.8 248,437.1 248.5,437 249,437 249.5,437.3 250,437.7 250.5,437.1 251,437.2 251.5,434.9 252,435.6 252.5,438 253,438.4 253.5,438.4 254,437.8 254.5,438.5 255,437.7 255.5,438.7 256,438.5 256.5,438.3 257,436.8 257.5,437.2 258,438.9 258.5,438.8 259,438.3 259.5,435.9 260,436 260.5,436 261,437.5 261.5,438 262,437.9 262.5,437.8 263,437.1 263.5,436.7 264,436.6 264.5,436.7 265,435.8 265.5,437.3 266,437 266.5,437.5 267,437.1 267.5,437.3 268,437.2 268.5,437.3 269,437.9 269.5,437.7 270,438.3 270.5,438.6 271,438.6 271.5,438.7 272,437.9 272.5,438.6 273,437.9 273.5,438.8 274,438.6 274.5,438.8 275,438.2 275.5,438.1 276,438.2 276.5,438.3 277,435.8 277.5,438 278,437.5 278.5,437.4 279,437.6 279.5,437.3 280,437.4 280.5,437.3 281,438.1 281.5,438.2 282,437.5 282.5,438.2 283,437.4 283.5,437.8 284,437.7 284.5,438.5 285,438.1 285.5,438 286,435.3 286.5,438.5 287,438.7 287.5,438.1 288,436.5 288.5,438.6 289,437.8 289.5,437.8 290,437.7 290.5,438.1 291,437.3 291.5,438 292,437.6 292.5,437.9 293,436.9 293.5,437.4 294,437.2 294.5,437.3 295,437.9 295.5,438 296,437.5 296.5,438.1 297,437.8 297.5,438.4 298,437.8 298.5,437.9 299,438.5 299.5,439 300,439.2 300.5,438.3 301,436.9 301.5,439.3 302,438.5 302.5,438.7 303,438.2 303.5,439 304,438.6 304.5,438.8 305,437.8 305.5,438.2 306,438.3 306.5,435.9 307,437.8 307.5,437.1 308,437.9 308.5,437.4 309,437.5 309.5,434.2 310,437.9 310.5,437.8 311,437 311.5,437.6 312,437.9 312.5,437.7 313,437.8 313.5,437.5 314,438 314.5,438.5 315,437.9 315.5,436.3 316,438.6 316.5,438.5 317,438.9 317.5,438.8 318,435.8 318.5,438 319,438.1 319.5,438.5 320,438.8 320.5,438.8 320.5,444.7 320,444.8 319.5,444.5 319,444.4 318.5,445 318,446.2 317.5,444.6 317,445.2 316.5,445.2 316,444.6 315.5,446.6 315,447.5 314.5,444.2 314,444.2 313.5,443.9 313,444.6 312.5,443.7 312,443.7 311.5,445.5 311,444.2 310.5,443.6 310,443.4 309.5,444.2 309,444.1 308.5,443.9 308,444 307.5,444.2 307,444 306.5,444 306,444.6 305.5,444.9 305,444.4 304.5,444.5 304,447.1 303.5,444.6 303,444.7 302.5,445.4 302,444.7 301.5,445.4 301,444.7 300.5,444.8 300,444.9 299.5,445 299,444.9 298.5,444.7 298,444.5 297.5,444.7 297,444.2 296.5,446.2 296,443.7 295.5,444.1 295,443.4 294.5,443.7 294,443.8 293.5,443.8 293,443.8 292.5,443.3 292,444.3 291.5,443.5 291,443.8 290.5,447.2 290,443.9 289.5,444.5 289,444.3 288.5,444.3 288,444.1 287.5,444.3 287,444.7 286.5,444.9 286,444.9 285.5,445 285,444.2 284.5,444.8 284,444.2 283.5,444.6 283,444.8 282.5,444.4 282,444.1 281.5,443.9 281,446.2 280.5,444.4 280,443.9 279.5,443.7 279,444.3 278.5,443.6 278,443.7 277.5,445 277,444.7 276.5,444 276,444.6 275.5,444.1 275,446.2 274.5,444.9 274,444.4 273.5,444.4 273,445.2 272.5,445 272,445.1 271.5,444.2 271,445 270.5,444.4 270,444.3 269.5,444.7 269,444.5 268.5,443.8 268,444.1 267.5,443.4 267,443.2 266.5,443.8 266,443.3 265.5,443.6 265,443.4 264.5,443.1 264,443.4 263.5,445.5 263,443.3 262.5,443.9 262,443.4 261.5,443.9 261,444.5 260.5,444.2 260,445 259.5,444.2 259,444.8 258.5,444.6 258,444.6 257.5,446.8 257,445.4 256.5,444.7 256,447.9 255.5,447.9 255,444.4 254.5,444.7 254,444.6 253.5,444.8 253,443.9 252.5,444.6 252,443.9 251.5,444.4 251,443.9 250.5,444.2 250,443.3 249.5,444.1 249,444 248.5,443.1 248,443.7 247.5,443.3 247,445.7 246.5,443.4 246,444.2 245.5,444.1 245,443.3 244.5,443.2 244,443.4 243.5,443.6 243,443.6 242.5,443 242,443.2 241.5,442.8 241,443.2 240.5,443.2 240,442.4 239.5,442.8 239,444.9 238.5,442.8 238,442.4 237.5,442.1 237,443.7 236.5,441.9 236,442.6 235.5,441.8 235,443.2 234.5,442.5 234,442.3 233.5,441.8 233,442 232.5,442.1 232,443.1 231.5,442.4 231,442.1 230.5,441.6 230,443.7 229.5,442.1 229,442.3 228.5,443.5 228,442.1 227.5,442 227,442 226.5,441.6 226,441.9 225.5,442 225,442.2 224.5,442.1 224,441.4 223.5,441.4 223,442.2 222.5,441.3 222,442.1 221.5,441.5 221,442.4 220.5,443.9 220,441.8 219.5,442 219,442 218.5,443.7 218,441.7 217.5,442.1 217,442.2 216.5,442.5 216,442.3 215.5,442.4 215,442.8 214.5,442.5 214,442.7 213.5,442.5 213,442.6 212.5,443.9 212,441.9 211.5,443 211,444.8 210.5,441.5 210,445 209.5,442.4 209,442.4 208.5,445.2 208,441.9 207.5,443 207,441.5 206.5,441.9 206,442.1 205.5,441.2 205,442 204.5,441.2 204,441.3 203.5,441.6 203,441.8 202.5,441.3 202,441.9 201.5,441.5 201,441.4 200.5,441.4 200,441 199.5,442.4 199,441.3 198.5,441.7 198,441.1 197.5,441.1 197,441.6 196.5,441.2 196,441.2 195.5,441.1 195,441.3 194.5,440.9 194,443.7 193.5,441.6 193,441.9 192.5,441.2 192,441.8 191.5,442.2 191,441.8 190.5,441.4 190,442.1 189.5,441.7 189,441.3 188.5,441.8 188,441.8 187.5,443.2 187,441 186.5,441.4 186,441.7 185.5,440.9 185,440.8 184.5,443.8 184,441.9 183.5,440.8 183,441 182.5,440.8 182,440.9 181.5,440.2 181,440.4 180.5,441.2 180,441 179.5,440.9 179,441.5 178.5,443.1 178,444.4 177.5,441.2 177,441.6 176.5,441.8 176,441.9 175.5,444.6 175,442.3 174.5,441.8 174,442 173.5,442.1 173,442.5 172.5,442.4 172,442.4 171.5,441.5 171,441.5 170.5,442.8 170,441.7 169.5,441.7 169,441 168.5,440.5 168,440.8 167.5,440.2 167,440.3 166.5,441.9 166,440.5 165.5,440.6 165,439.9 164.5,440.6 164,442 163.5,439.8 163,440 162.5,440.4 162,440.1 161.5,440.4 161,441 160.5,440.8 160,443.4 159.5,441.4 159,441.1 158.5,440.9 158,440.9 157.5,440.9 157,440.9 156.5,440.3 156,443.6 155.5,440.7 155,440.9 154.5,440.4 154,440 153.5,440.5 153,440.6 152.5,442 152,440.2 151.5,440.4 151,439.9 150.5,440.8 150,440.8 149.5,440.5 149,441 148.5,440.8 148,440.6 147.5,440.4 147,440.8 146.5,440.9 146,440.8 145.5,440.7 145,443 144.5,440.8 144,441.1 143.5,441.3 143,440.8 142.5,440.9 142,441.3 141.5,440.9 141,440.7 140.5,441 140,440.8 139.5,440 139,440.5 138.5,439.7 138,439.7 137.5,440.4 137,440.2 136.5,439.4 136,440.4 135.5,440.2 135,440.1 134.5,440.1 134,440.1 133.5,441.8 133,440.2 132.5,440.3 132,440.3 131.5,440.3 131,440.2 130.5,441 130,440.2 129.5,441 129,441.5 128.5,440.3 128,440.6 127.5,440 127,440.2 126.5,440.8 126,439.7 125.5,439.8 125,439 124.5,441.8 124,438.8 123.5,438.7 123,438.6 122.5,438.2 122,438.4 121.5,438.6 121,438.1 120.5,440.5 120,440 119.5,438.5 119,437.9 118.5,438.3 118,438.6 117.5,438.8 117,439.6 116.5,438.8 116,438.8 115.5,438.9 115,439.3 114.5,439.1 114,439.4 113.5,438.5 113,439.3 112.5,439.5 112,442.3 111.5,439.3 111,439.1 110.5,438.9 110,439.5 109.5,438.8 109,438.7 108.5,439.2 108,440.4 107.5,439.4 107,438.9 106.5,439 106,439.1 105.5,439.1 105,438.5 104.5,438.3 104,438.1 103.5,438.2 103,438 102.5,438.5 102,440.5 101.5,438 101,438.1 100.5,437.6 100,437.6 99.5,441.5 99,438 98.5,437.2 98,438.5 97.5,439.7 97,437.6 96.5,436.9 96,437.4 95.5,436.5 95,437.2 94.5,436.8 94,437 93.5,436.1 93,436.6 92.5,436.7 92,436.5 91.5,436.1 91,436.3 90.5,435.7 90,435.5 89.5,435.9 89,437.4 88.5,434.7 88,435.1 87.5,434.5 87,434.4 86.5,435.3 86,434.2 85.5,433.4 85,433.1 84.5,432.6 84,432.4 83.5,431.9 83,432.3 82.5,431.7 82,431.4 81.5,431.4 81,431.8 80.5,429.9 80,429.8 79.5,429.2 79,429.6 78.5,429.2 78,428.3 77.5,428 77,427.5 76.5,427.3 76,428.2 75.5,426.1 75,424.9 74.5,424.8 74,424 73.5,423.3 73,425.7 72.5,435.8 72,445.4 71.5,445" fill="#0b0bff"/>
<polygon points="43.6,488.2 44.1,488.6 44.6,489.1 45.1,489.3 45.6,488.8 46.1,488.4 46.6,488.2 47.1,488.5 47.6,488.5 48.1,488.2 48.6,487.9 49.1,488.6 49.6,488.2 50.1,487.5 50.6,487.4 51.1,487.5 51.6,487.9 52.1,488 52.6,487.1 53.1,487.1 53.6,487.8 54.1,487 54.6,487.6 55.1,488 55.6,488 56.1,487.8 56.6,488 57.1,488 57.6,488.9 58.1,488.3 58.6,488.8 59.1,489 59.6,488.8 60.1,489 60.6,489.8 61.1,489.3 61.6,489 62.1,489.4 62.6,489.7 63.1,488.9 63.6,489 64.1,489.5 64.6,488.8 65.1,489.6 65.6,489.4 66.1,488.9 66.6,489.1 67.1,488.6 67.6,489.3 68.1,488.2 68.6,489.1 69.1,488.6 69.1,495.8 68.6,495.8 68.1,498.7 67.6,496.1 67.1,495.6 66.6,495.4 66.1,495.4 65.6,496.4 65.1,496.1 64.6,496.1 64.1,495.7 63.6,496.2 63.1,496.1 62.6,496.1 62.1,496.6 61.6,495.8 61.1,496.3 60.6,496.4 60.1,495.7 59.6,495.6 59.1,497.6 58.6,495.8 58.1,495.3 57.6,495.5 57.1,495.3 56.6,494.7 56.1,494.8 55.6,495.2 55.1,494.5 54.6,494.1 54.1,494.9 53.6,493.9 53.1,494.1 52.6,494.8 52.1,494.7 51.6,494.9 51.1,494.9 50.6,494.8 50.1,494.8 49.6,494.7 49.1,494.7 48.6,494.8 48.1,494.9 47.6,495.6 47.1,495.7 46.6,495.4 46.1,495.7 45.6,495.9 45.1,495.2 44.6,495.6 44.1,495.5 43.6,496" fill="#ff0000"/>
<line x1="70.1" y1="375.5" x2="70.1" y2="541.2" stroke="#ff0000" stroke-width="1.8" />
<polygon points="70.6,430.9 71.1,420.1 71.6,417.5 72.1,417.3 72.6,418.4 73.1,419.7 73.6,421.7 74.1,422.6 74.6,420.6 75.1,424.1 75.6,423 76.1,426.5 76.6,427.2 77.1,427.5 77.6,428 78.1,428.8 78.6,429.6 79.1,428.3 79.6,427.2 80.1,430.3 80.6,431.2 81.1,431.7 81.6,432.4 82.1,432.3 82.6,432.7 83.1,433 83.6,432.8 84.1,430.7 84.6,430.6 85.1,434.6 85.6,434.9 86.1,435 86.6,435 87.1,435.3 87.6,434.7 88.1,435.4 88.6,435.5 89.1,436.4 89.6,436 90.1,436.5 90.6,435.8 91.1,435.9 91.6,436.6 92.1,436.6 92.6,436.5 93.1,434 93.6,436.6 94.1,437 94.6,436.7 95.1,436.7 95.6,437 96.1,436.1 96.6,437.2 97.1,437.3 97.6,436.4 98.1,437 98.6,436.8 99.1,437.7 99.6,436.9 100.1,437.4 100.6,437.6 101.1,437.5 101.6,437.3 102.1,437.4 102.6,437.5 103.1,437.1 103.6,437.3 104.1,438.3 104.6,437.2 105.1,437.2 105.6,437.4 106.1,437.8 106.6,437.6 107.1,438.5 107.6,437.9 108.1,438.6 108.6,435.4 109.1,437.4 109.6,438.6 110.1,437.4 110.6,438.3 111.1,438.2 111.6,433.5 112.1,437.9 112.6,435.1 113.1,437.8 113.6,437.8 114.1,437.8 114.6,437.5 115.1,437.4 115.6,437.3 116.1,437.4 116.6,436.8 117.1,437.4 117.6,437.1 118.1,433.2 118.6,436.6 119.1,436.5 119.6,437.4 120.1,437.4 120.6,437.7 121.1,436.5 121.6,436.4 122.1,435.7 122.6,437 123.1,437.3 123.6,437.7 124.1,437.6 124.6,438.4 125.1,438.6 125.6,437.9 126.1,438.2 126.6,439.2 127.1,438.7 127.6,439 128.1,438.4 128.6,437.9 129.1,438.8 129.6,438.8 130.1,439.7 130.6,437.7 131.1,439.6 131.6,439.1 132.1,438.2 132.6,438.6 133.1,439.2 133.6,439 134.1,438 134.6,438.1 135.1,438.5 135.6,438.1 136.1,438.1 136.6,438.5 137.1,438.5 137.6,438.1 138.1,438.2 138.6,435.7 139.1,438.5 139.6,438.8 140.1,439 140.6,439.5 141.1,438.9 141.6,436.5 142.1,438.9 142.6,439.1 143.1,439.1 143.6,439.7 144.1,440 144.6,438.9 145.1,438.8 145.6,438.7 146.1,438.9 146.6,439.4 147.1,438.5 147.6,439.6 148.1,439.4 148.6,438.1 149.1,436.4 149.6,434 150.1,437.9 150.6,438.3 151.1,438.1 151.6,439 152.1,438.4 152.6,438 153.1,438 153.6,439 154.1,438.4 154.6,438.7 155.1,438.9 155.6,439.6 156.1,439.3 156.6,438.5 157.1,439.3 157.6,438.9 158.1,439.5 158.6,439.5 159.1,439.4 159.6,439.6 160.1,439.2 160.6,438.5 161.1,438.6 161.6,435.4 162.1,434.5 162.6,439.1 163.1,436.3 163.6,438.8 164.1,438.7 164.6,438.2 165.1,438 165.6,438.2 166.1,439.1 166.6,438.8 167.1,438.4 167.6,438.6 168.1,439.3 168.6,439 169.1,440.1 169.6,440.2 170.1,440.1 170.6,440 171.1,440 171.6,439.9 172.1,440.4 172.6,438.9 173.1,438.2 173.6,440.5 174.1,439.9 174.6,440.9 175.1,440.5 175.6,439.8 176.1,440.3 176.6,436.4 177.1,440 177.6,439.5 178.1,439.1 178.6,439 179.1,439.2 179.6,438.7 180.1,439.8 180.6,437.6 181.1,436.4 181.6,439.3 182.1,439.2 182.6,435.4 183.1,438.6 183.6,439.6 184.1,439.9 184.6,439.5 185.1,438.8 185.6,436.1 186.1,440 186.6,440.3 187.1,440.5 187.6,439.3 188.1,440.6 188.6,437.4 189.1,440.4 189.6,440 190.1,440.6 190.6,440.3 191.1,439.9 191.6,440.4 192.1,439.5 192.6,440.2 193.1,439.6 193.6,439.9 194.1,439.3 194.6,440.5 195.1,439.7 195.6,439.5 196.1,440.2 196.6,439.9 197.1,439.5 197.6,440.4 198.1,439.6 198.6,435.5 199.1,440.2 199.6,439.2 200.1,439.2 200.6,439.8 201.1,437.8 201.6,440.2 202.1,438.2 202.6,439.5 203.1,440.6 203.6,440.4 204.1,440.4 204.6,439.5 205.1,440.6 205.6,440.5 206.1,440.6 206.6,440.7 207.1,439.5 207.6,439 208.1,439.6 208.6,439.9 209.1,440.1 209.6,439.9 210.1,440.6 210.6,440.5 211.1,441 211.6,440.5 212.1,440.2 212.6,440.6 213.1,441.2 213.6,440.5 214.1,441 214.6,441 215.1,440.1 215.6,440.7 216.1,441.2 216.6,440.9 217.1,440.5 217.6,440.6 218.1,440.1 218.6,441 219.1,437.1 219.6,440.3 220.1,439.8 220.6,437 221.1,440.2 221.6,439.7 222.1,439.3 222.6,439.8 223.1,439.2 223.6,439.9 224.1,439.3 224.6,439.2 225.1,440.2 225.6,440.3 226.1,440.1 226.6,439.7 227.1,439.8 227.6,439.5 228.1,439.3 228.6,440.1 229.1,440.5 229.6,440.2 230.1,439.6 230.6,440.5 231.1,440.6 231.6,440.3 232.1,439.9 232.6,439.6 233.1,439.4 233.6,439.4 234.1,440.2 234.6,440.6 235.1,440.3 235.6,440.5 236.1,440 236.6,436.6 237.1,438.1 237.6,440.4 238.1,440 238.6,441.1 239.1,441.1 239.6,440.6 240.1,441.1 240.6,441.3 241.1,440.7 241.6,440.3 242.1,440.1 242.6,440 243.1,438.5 243.6,439.2 244.1,437.9 244.6,437.7 245.1,438.4 245.6,437.3 246.1,436.8 246.6,435.1 247.1,436.5 247.6,437 248.1,436.5 248.6,437.2 249.1,437.3 249.6,437.4 250.1,436.8 250.6,436.8 251.1,436.9 251.6,437 252.1,437.8 252.6,437.5 253.1,437.1 253.6,437.4 254.1,437.1 254.6,437.1 255.1,438.4 255.6,438 256.1,438.6 256.6,438.4 257.1,437.4 257.6,438.4 258.1,438.4 258.6,437.3 259.1,437.8 259.6,437.9 260.1,436.6 260.6,437.7 261.1,436.5 261.6,436.4 262.1,436.2 262.6,436.4 263.1,436.4 263.6,436.1 264.1,435.9 264.6,432 265.1,436.2 265.6,436.2 266.1,436.8 266.6,436.8 267.1,436.2 267.6,436.5 268.1,436.8 268.6,437.1 269.1,436.8 269.6,434.4 270.1,436.6 270.6,437.4 271.1,437.4 271.6,437.5 272.1,437.6 272.6,435.3 273.1,437.3 273.6,437.8 274.1,436.7 274.6,437.4 275.1,437.6 275.6,437.6 276.1,432.4 276.6,437.2 277.1,436.4 277.6,436.8 278.1,436.7 278.6,436.2 279.1,436.9 279.6,435.7 280.1,436.1 280.6,436.4 281.1,436.3 281.6,436.5 282.1,437 282.6,437.3 283.1,432 283.6,436.1 284.1,437.3 284.6,436.6 285.1,436.9 285.6,436.8 286.1,436.8 286.6,437.4 287.1,436.9 287.6,436.6 288.1,436.4 288.6,436.9 289.1,437.1 289.6,436.3 290.1,436.1 290.6,435.5 291.1,436.7 291.6,434.9 292.1,435.7 292.6,436.2 293.1,435.5 293.6,435.8 294.1,436.3 294.6,435.2 295.1,436.3 295.6,436.3 296.1,436.4 296.6,436.5 297.1,436.3 297.6,436.3 298.1,436 298.6,437.3 299.1,437.4 299.6,436.7 300.1,436.9 300.6,436.6 301.1,436.8 301.6,436.6 302.1,437.2 302.6,434.6 303.1,436.7 303.6,437 304.1,436.3 304.6,435.9 305.1,436.8 305.6,435.7 306.1,434.5 306.6,435.9 307.1,435.5 307.6,435 308.1,435 308.6,435.4 309.1,435.1 309.6,435.9 310.1,435.7 310.6,435.2 311.1,435 311.6,436.1 312.1,434.9 312.6,435 313.1,435.8 313.6,436.1 314.1,435.9 314.6,436.4 315.1,433.8 315.6,436.7 316.1,436.3 316.6,435.9 317.1,436 317.6,435.1 318.1,436.2 318.6,436.9 319.1,435.7 319.6,435.6 320.1,436.7 320.6,435.8 320.6,444.6 320.1,444.9 319.6,444.2 319.1,444.7 318.6,445.3 318.1,445.6 317.6,444.4 317.1,444.7 316.6,445.3 316.1,445 315.6,445.1 315.1,444.9 314.6,444.5 314.1,444.6 313.6,444.4 313.1,444.1 312.6,444.9 312.1,444.8 311.6,443.6 311.1,447.4 310.6,444.3 310.1,443.9 309.6,443.8 309.1,444.4 308.6,443.5 308.1,444.7 307.6,444.2 307.1,444.9 306.6,444.4 306.1,444.8 305.6,444.5 305.1,445.4 304.6,445.3 304.1,444.7 303.6,445.5 303.1,445.5 302.6,446.1 302.1,449.5 301.6,446.2 301.1,445.8 300.6,446 300.1,445.5 299.6,445.6 299.1,448.9 298.6,445.2 298.1,445.6 297.6,445.2 297.1,445.6 296.6,445.3 296.1,444.1 295.6,444 295.1,443.9 294.6,444.6 294.1,444.9 293.6,446 293.1,443.7 292.6,444.5 292.1,444.1 291.6,444.6 291.1,444.5 290.6,445.3 290.1,444.7 289.6,446.3 289.1,445.8 288.6,447.3 288.1,445.4 287.6,445.4 287.1,445.2 286.6,446.1 286.1,445.6 285.6,445.2 285.1,444.8 284.6,447.6 284.1,445.3 283.6,445.1 283.1,444.7 282.6,444.9 282.1,445.8 281.6,445.5 281.1,444.4 280.6,448.8 280.1,444.8 279.6,444.7 279.1,444.6 278.6,444.9 278.1,444.9 277.6,445.7 277.1,445.6 276.6,445.9 276.1,445.3 275.6,445.3 275.1,450.5 274.6,445.8 274.1,445.2 273.6,445.7 273.1,445.4 272.6,446.5 272.1,446.2 271.6,446.3 271.1,445.5 270.6,446 270.1,446.1 269.6,446.9 269.1,446 268.6,445.1 268.1,445.6 267.6,444.6 267.1,445.3 266.6,444.4 266.1,444.2 265.6,444.7 265.1,445.1 264.6,445.2 264.1,448.7 263.6,444.7 263.1,445.5 262.6,445.2 262.1,445.8 261.6,445.4 261.1,445.7 260.6,450 260.1,446 259.6,445.8 259.1,446 258.6,450.8 258.1,446.2 257.6,445.9 257.1,447.1 256.6,446.7 256.1,446.9 255.6,450.3 255.1,445.9 254.6,446.9 254.1,448.1 253.6,446.9 253.1,445.7 252.6,445.2 252.1,445.6 251.6,446.3 251.1,445.6 250.6,449.3 250.1,446 249.6,445 249.1,445.9 248.6,445.1 248.1,445.4 247.6,444.9 247.1,445.6 246.6,445.8 246.1,445.9 245.6,447 245.1,446.8 244.6,447.4 244.1,448.1 243.6,448.4 243.1,447.6 242.6,448.7 242.1,449.4 241.6,449 241.1,449.1 240.6,449.7 240.1,449.7 239.6,449.2 239.1,449.2 238.6,449 238.1,452.5 237.6,451 237.1,449.1 236.6,448.4 236.1,449 235.6,448.5 235.1,448.5 234.6,448.7 234.1,448.8 233.6,448.8 233.1,448.3 232.6,448.6 232.1,448.8 231.6,448.8 231.1,448.7 230.6,449.1 230.1,447.9 229.6,448.9 229.1,449.2 228.6,449 228.1,449.2 227.6,448.4 227.1,448.6 226.6,448.5 226.1,450.2 225.6,451.1 225.1,449.1 224.6,448.8 224.1,449.1 223.6,448.4 223.1,448.2 222.6,449 222.1,449 221.6,448.2 221.1,448.3 220.6,448.4 220.1,448.9 219.6,449.4 219.1,449.3 218.6,448.5 218.1,449.3 217.6,448.6 217.1,449.5 216.6,449.7 216.1,448.9 215.6,449.4 215.1,451.4 214.6,448.9 214.1,451.9 213.6,449.2 213.1,449.7 212.6,448.5 212.1,448.7 211.6,449.1 211.1,449.6 210.6,453.7 210.1,448.3 209.6,448.9 209.1,448.6 208.6,448.9 208.1,448.9 207.6,448.2 207.1,448.3 206.6,448.6 206.1,448.2 205.6,448.8 205.1,449.3 204.6,448.9 204.1,451.7 203.6,448 203.1,448.5 202.6,448 202.1,448.6 201.6,448.3 201.1,448.4 200.6,448.1 200.1,448 199.6,448.4 199.1,448.2 198.6,447.8 198.1,448.4 197.6,448.5 197.1,447.7 196.6,448.6 196.1,448.5 195.6,448.2 195.1,447.9 194.6,448 194.1,449.1 193.6,448.6 193.1,448.2 192.6,448.6 192.1,449.2 191.6,448.1 191.1,448.3 190.6,448.9 190.1,449.4 189.6,448.2 189.1,449.1 188.6,449.4 188.1,448 187.6,448.8 187.1,448.3 186.6,448.2 186.1,448.5 185.6,448.5 185.1,448.2 184.6,448.5 184.1,447.5 183.6,447.7 183.1,447.2 182.6,447.4 182.1,448 181.6,447.5 181.1,447.2 180.6,447.4 180.1,448.1 179.6,448.4 179.1,449.5 178.6,448 178.1,447.9 177.6,448.6 177.1,448 176.6,448.2 176.1,449.5 175.6,449.2 175.1,449.3 174.6,449.2 174.1,452 173.6,449.5 173.1,449.8 172.6,449.8 172.1,449.7 171.6,451.3 171.1,448.6 170.6,448.7 170.1,448.2 169.6,447.7 169.1,448.8 168.6,448.2 168.1,447.1 167.6,447 167.1,447.5 166.6,447.1 166.1,447.8 165.6,447.7 165.1,447.7 164.6,446.7 164.1,447.2 163.6,446.5 163.1,448.4 162.6,447.7 162.1,447.7 161.6,447.9 161.1,448.2 160.6,448.1 160.1,448.3 159.6,447.1 159.1,448.4 158.6,447.8 158.1,448 157.6,447.5 157.1,448.4 156.6,448.2 156.1,449.6 155.6,447.4 155.1,447.9 154.6,446.9 154.1,448 153.6,446.7 153.1,446.8 152.6,447.6 152.1,447.5 151.6,446.9 151.1,448.6 150.6,446.5 150.1,447.1 149.6,447.4 149.1,449.8 148.6,448 148.1,447.1 147.6,447.3 147.1,448.2 146.6,448.1 146.1,447.4 145.6,448.2 145.1,448.1 144.6,447.5 144.1,448.4 143.6,448.1 143.1,447.9 142.6,448.1 142.1,447.5 141.6,447.5 141.1,447.9 140.6,447.2 140.1,447.5 139.6,447.6 139.1,446.7 138.6,447.6 138.1,448.9 137.6,449.2 137.1,447.4 136.6,446.3 136.1,446.9 135.6,446.5 135.1,446.8 134.6,446.9 134.1,447.3 133.6,447.9 133.1,447.9 132.6,448.1 132.1,448.6 131.6,448 131.1,446.9 130.6,451.3 130.1,448.1 129.6,449.9 129.1,447.2 128.6,448.1 128.1,448.2 127.6,446.8 127.1,446.8 126.6,447.4 126.1,446.9 125.6,447.2 125.1,446.8 124.6,445.9 124.1,446 123.6,446.7 123.1,445.5 122.6,446.4 122.1,445.3 121.6,445.5 121.1,445.5 120.6,445.9 120.1,446.2 119.6,445.6 119.1,445.8 118.6,445.4 118.1,446 117.6,445.2 117.1,446.6 116.6,445.9 116.1,449.6 115.6,446.9 115.1,446.4 114.6,446.2 114.1,446.8 113.6,446.7 113.1,447.2 112.6,446.8 112.1,447.2 111.6,447.1 111.1,446.2 110.6,447 110.1,446.6 109.6,446 109.1,447.1 108.6,446.4 108.1,447.1 107.6,446.3 107.1,445.9 106.6,446 106.1,446.9 105.6,446.4 105.1,446.9 104.6,446.1 104.1,446.7 103.6,446.8 103.1,446.5 102.6,446.7 102.1,446.4 101.6,448.3 101.1,446.5 100.6,445.5 100.1,446.7 99.6,446.6 99.1,446 98.6,449.5 98.1,446.3 97.6,447.2 97.1,446 96.6,445.4 96.1,445.4 95.6,444.8 95.1,444.7 94.6,445.5 94.1,445 93.6,444.8 93.1,444.6 92.6,444.4 92.1,444.8 91.6,445.1 91.1,444.8 90.6,444 90.1,443.6 89.6,443.9 89.1,443.5 88.6,444.3 88.1,443.2 87.6,443 87.1,442.7 86.6,443.4 86.1,442.7 85.6,442.6 85.1,441.6 84.6,441.9 84.1,443.8 83.6,441 83.1,442.4 82.6,440.6 82.1,440.1 81.6,439.2 81.1,439.6 80.6,438.4 80.1,438.3 79.6,438.2 79.1,437.3 78.6,437 78.1,436.3 77.6,436 77.1,434.9 76.6,434.6 76.1,433.8 75.6,433.5 75.1,432.8 74.6,430.9 74.1,430.8 73.6,429.2 73.1,427.8 72.6,427.2 72.1,426.2 71.6,433.5 71.1,442.7 70.6,444.7" fill="#ff0000"/>
<line x1="42.6" y1="375.5" x2="42.6" y2="567" stroke="#808080" stroke-width="1.1" />
<line x1="42.1" y1="566.5" x2="320.8" y2="566.5" stroke="#1e1e1e" stroke-width="1.3" />
<line x1="36.5" y1="380.8" x2="42.6" y2="380.8" stroke="#333" stroke-width="1.3" />
<text x="33.2" y="384.8" font-family="Liberation Serif" font-size="9.5" font-weight="normal" fill="#777" text-anchor="end" textLength="11.7" lengthAdjust="spacingAndGlyphs" >100</text>
<line x1="36.5" y1="429.1" x2="42.6" y2="429.1" stroke="#333" stroke-width="1.3" />
<text x="33.2" y="433.1" font-family="Liberation Serif" font-size="9.5" font-weight="normal" fill="#777" text-anchor="end" textLength="7.8" lengthAdjust="spacingAndGlyphs" >50</text>
<line x1="36.5" y1="477.4" x2="42.6" y2="477.4" stroke="#333" stroke-width="1.3" />
<text x="33.2" y="481.4" font-family="Liberation Serif" font-size="9.5" font-weight="normal" fill="#777" text-anchor="end" textLength="3.9" lengthAdjust="spacingAndGlyphs" >0</text>
<line x1="36.5" y1="525.7" x2="42.6" y2="525.7" stroke="#333" stroke-width="1.3" />
<text x="33.2" y="529.7" font-family="Liberation Serif" font-size="9.5" font-weight="normal" fill="#777" text-anchor="end" textLength="11.7" lengthAdjust="spacingAndGlyphs" >-50</text>
<line x1="43.6" y1="566.5" x2="43.6" y2="574.1" stroke="#222" stroke-width="1.4" />
<text x="43.6" y="588.6" font-family="Liberation Serif" font-size="9.5" font-weight="normal" fill="#777" text-anchor="middle" textLength="12.5" lengthAdjust="spacingAndGlyphs" >0.0</text>
<line x1="94.3" y1="566.5" x2="94.3" y2="574.1" stroke="#222" stroke-width="1.4" />
<text x="94.3" y="588.6" font-family="Liberation Serif" font-size="9.5" font-weight="normal" fill="#777" text-anchor="middle" textLength="12.5" lengthAdjust="spacingAndGlyphs" >0.1</text>
<line x1="145" y1="566.5" x2="145" y2="574.1" stroke="#222" stroke-width="1.4" />
<text x="145" y="588.6" font-family="Liberation Serif" font-size="9.5" font-weight="normal" fill="#777" text-anchor="middle" textLength="12.5" lengthAdjust="spacingAndGlyphs" >0.2</text>
<line x1="195.7" y1="566.5" x2="195.7" y2="574.1" stroke="#222" stroke-width="1.4" />
<text x="195.7" y="588.6" font-family="Liberation Serif" font-size="9.5" font-weight="normal" fill="#777" text-anchor="middle" textLength="12.5" lengthAdjust="spacingAndGlyphs" >0.3</text>
<line x1="246.4" y1="566.5" x2="246.4" y2="574.1" stroke="#222" stroke-width="1.4" />
<text x="246.4" y="588.6" font-family="Liberation Serif" font-size="9.5" font-weight="normal" fill="#777" text-anchor="middle" textLength="12.5" lengthAdjust="spacingAndGlyphs" >0.4</text>
<line x1="297.1" y1="566.5" x2="297.1" y2="574.1" stroke="#222" stroke-width="1.4" />
<text x="297.1" y="588.6" font-family="Liberation Serif" font-size="9.5" font-weight="normal" fill="#777" text-anchor="middle" textLength="12.5" lengthAdjust="spacingAndGlyphs" >0.5</text>
<text x="181.8" y="599.5" font-family="Liberation Serif" font-size="9.5" font-weight="normal" fill="#666" text-anchor="start" textLength="27.8" lengthAdjust="spacingAndGlyphs" >Time[s]</text>
<text transform="translate(7.6,482.4) rotate(-90)" font-family="Liberation Serif" font-size="9" font-weight="normal" fill="#777" textLength="23.5" lengthAdjust="spacingAndGlyphs">I[pA]</text>
<line x1="225.2" y1="400.5" x2="241.8" y2="400.5" stroke="#1010ff" stroke-width="1.6" />
<line x1="225.2" y1="411.7" x2="241.8" y2="411.7" stroke="#ff1a1a" stroke-width="1.6" />
<text x="248.2" y="403.2" font-family="Liberation Sans" font-size="11.5" font-weight="normal" fill="#333" text-anchor="start" textLength="57" lengthAdjust="spacingAndGlyphs" >No-Sinapine</text>
<text x="248.2" y="418" font-family="Liberation Sans" font-size="11.5" font-weight="normal" fill="#333" text-anchor="start" textLength="62" lengthAdjust="spacingAndGlyphs" >Add-Sinapine</text>
<line x1="415.4" y1="536.9" x2="415.4" y2="542.9" stroke="#f7a040" stroke-width="2" />
<line x1="412.4" y1="536.9" x2="418.4" y2="536.9" stroke="#f7a040" stroke-width="2" />
<line x1="412.4" y1="542.9" x2="418.4" y2="542.9" stroke="#f7a040" stroke-width="2" />
<line x1="428.8" y1="534.5" x2="428.8" y2="541.5" stroke="#f7a040" stroke-width="2" />
<line x1="425.8" y1="534.5" x2="431.8" y2="534.5" stroke="#f7a040" stroke-width="2" />
<line x1="425.8" y1="541.5" x2="431.8" y2="541.5" stroke="#f7a040" stroke-width="2" />
<line x1="442.2" y1="531.5" x2="442.2" y2="538.5" stroke="#f7a040" stroke-width="2" />
<line x1="439.2" y1="531.5" x2="445.2" y2="531.5" stroke="#f7a040" stroke-width="2" />
<line x1="439.2" y1="538.5" x2="445.2" y2="538.5" stroke="#f7a040" stroke-width="2" />
<line x1="455.6" y1="529.2" x2="455.6" y2="537.2" stroke="#f7a040" stroke-width="2" />
<line x1="452.6" y1="529.2" x2="458.6" y2="529.2" stroke="#f7a040" stroke-width="2" />
<line x1="452.6" y1="537.2" x2="458.6" y2="537.2" stroke="#f7a040" stroke-width="2" />
<line x1="469" y1="525.9" x2="469" y2="534.9" stroke="#f7a040" stroke-width="2" />
<line x1="466" y1="525.9" x2="472" y2="525.9" stroke="#f7a040" stroke-width="2" />
<line x1="466" y1="534.9" x2="472" y2="534.9" stroke="#f7a040" stroke-width="2" />
<line x1="482.4" y1="521.9" x2="482.4" y2="531.9" stroke="#f7a040" stroke-width="2" />
<line x1="479.4" y1="521.9" x2="485.4" y2="521.9" stroke="#f7a040" stroke-width="2" />
<line x1="479.4" y1="531.9" x2="485.4" y2="531.9" stroke="#f7a040" stroke-width="2" />
<line x1="495.8" y1="517.3" x2="495.8" y2="528.3" stroke="#f7a040" stroke-width="2" />
<line x1="492.8" y1="517.3" x2="498.8" y2="517.3" stroke="#f7a040" stroke-width="2" />
<line x1="492.8" y1="528.3" x2="498.8" y2="528.3" stroke="#f7a040" stroke-width="2" />
<line x1="509.2" y1="511.6" x2="509.2" y2="523.6" stroke="#f7a040" stroke-width="2" />
<line x1="506.2" y1="511.6" x2="512.2" y2="511.6" stroke="#f7a040" stroke-width="2" />
<line x1="506.2" y1="523.6" x2="512.2" y2="523.6" stroke="#f7a040" stroke-width="2" />
<line x1="522.6" y1="506.5" x2="522.6" y2="519.5" stroke="#f7a040" stroke-width="2" />
<line x1="519.6" y1="506.5" x2="525.6" y2="506.5" stroke="#f7a040" stroke-width="2" />
<line x1="519.6" y1="519.5" x2="525.6" y2="519.5" stroke="#f7a040" stroke-width="2" />
<line x1="536" y1="499.1" x2="536" y2="514.1" stroke="#f7a040" stroke-width="2" />
<line x1="533" y1="499.1" x2="539" y2="499.1" stroke="#f7a040" stroke-width="2" />
<line x1="533" y1="514.1" x2="539" y2="514.1" stroke="#f7a040" stroke-width="2" />
<line x1="549.4" y1="489.2" x2="549.4" y2="505.2" stroke="#f7a040" stroke-width="2" />
<line x1="546.4" y1="489.2" x2="552.4" y2="489.2" stroke="#f7a040" stroke-width="2" />
<line x1="546.4" y1="505.2" x2="552.4" y2="505.2" stroke="#f7a040" stroke-width="2" />
<line x1="562.8" y1="483.5" x2="562.8" y2="497.5" stroke="#f7a040" stroke-width="2" />
<line x1="559.8" y1="483.5" x2="565.8" y2="483.5" stroke="#f7a040" stroke-width="2" />
<line x1="559.8" y1="497.5" x2="565.8" y2="497.5" stroke="#f7a040" stroke-width="2" />
<polyline points="375.2,547 388.6,545.5 402,543.3 415.4,539.9 428.8,538 442.2,535 455.6,533.2 469,530.4 482.4,526.9 495.8,522.8 509.2,517.6 522.6,513 536,506.6 549.4,497.2 562.8,490.5 576.2,478.1 589.6,465.1" fill="none" stroke="#f7a040" stroke-width="2.0" stroke-linejoin="miter" />
<circle cx="375.2" cy="547" r="2.6" fill="#f7a040"/>
<circle cx="388.6" cy="545.5" r="2.6" fill="#f7a040"/>
<circle cx="402" cy="543.3" r="2.6" fill="#f7a040"/>
<circle cx="415.4" cy="539.9" r="2.6" fill="#f7a040"/>
<circle cx="428.8" cy="538" r="2.6" fill="#f7a040"/>
<circle cx="442.2" cy="535" r="2.6" fill="#f7a040"/>
<circle cx="455.6" cy="533.2" r="2.6" fill="#f7a040"/>
<circle cx="469" cy="530.4" r="2.6" fill="#f7a040"/>
<circle cx="482.4" cy="526.9" r="2.6" fill="#f7a040"/>
<circle cx="495.8" cy="522.8" r="2.6" fill="#f7a040"/>
<circle cx="509.2" cy="517.6" r="2.6" fill="#f7a040"/>
<circle cx="522.6" cy="513" r="2.6" fill="#f7a040"/>
<circle cx="536" cy="506.6" r="2.6" fill="#f7a040"/>
<circle cx="549.4" cy="497.2" r="2.6" fill="#f7a040"/>
<circle cx="562.8" cy="490.5" r="2.6" fill="#f7a040"/>
<circle cx="576.2" cy="478.1" r="2.6" fill="#f7a040"/>
<circle cx="589.6" cy="465.1" r="2.6" fill="#f7a040"/>
<line x1="482.3" y1="381.3" x2="482.3" y2="547.9" stroke="#111" stroke-width="1.5" />
<line x1="372.5" y1="547.4" x2="589.6" y2="547.4" stroke="#111" stroke-width="1.4" />
<line x1="477.4" y1="381.4" x2="482.4" y2="381.4" stroke="#111" stroke-width="1.3" />
<text x="475.8" y="385.3" font-family="Liberation Sans" font-size="10.5" font-weight="bold" fill="#111" text-anchor="end" textLength="13.3" lengthAdjust="spacingAndGlyphs" stroke="#111" stroke-width="0.3">2.0</text>
<line x1="477.4" y1="422.8" x2="482.4" y2="422.8" stroke="#111" stroke-width="1.3" />
<text x="475.8" y="426.7" font-family="Liberation Sans" font-size="10.5" font-weight="bold" fill="#111" text-anchor="end" textLength="13.3" lengthAdjust="spacingAndGlyphs" stroke="#111" stroke-width="0.3">1.5</text>
<line x1="477.4" y1="464.2" x2="482.4" y2="464.2" stroke="#111" stroke-width="1.3" />
<text x="475.8" y="468.1" font-family="Liberation Sans" font-size="10.5" font-weight="bold" fill="#111" text-anchor="end" textLength="13.3" lengthAdjust="spacingAndGlyphs" stroke="#111" stroke-width="0.3">1.0</text>
<line x1="477.4" y1="505.6" x2="482.4" y2="505.6" stroke="#111" stroke-width="1.3" />
<text x="475.8" y="509.5" font-family="Liberation Sans" font-size="10.5" font-weight="bold" fill="#111" text-anchor="end" textLength="13.3" lengthAdjust="spacingAndGlyphs" stroke="#111" stroke-width="0.3">0.5</text>
<line x1="375.2" y1="547.4" x2="375.2" y2="552.6" stroke="#111" stroke-width="1.3" />
<line x1="402" y1="547.4" x2="402" y2="552.6" stroke="#111" stroke-width="1.3" />
<line x1="428.8" y1="547.4" x2="428.8" y2="552.6" stroke="#111" stroke-width="1.3" />
<line x1="455.6" y1="547.4" x2="455.6" y2="552.6" stroke="#111" stroke-width="1.3" />
<line x1="482.4" y1="547.4" x2="482.4" y2="552.6" stroke="#111" stroke-width="1.3" />
<line x1="509.2" y1="547.4" x2="509.2" y2="552.6" stroke="#111" stroke-width="1.3" />
<line x1="536" y1="547.4" x2="536" y2="552.6" stroke="#111" stroke-width="1.3" />
<line x1="562.8" y1="547.4" x2="562.8" y2="552.6" stroke="#111" stroke-width="1.3" />
<line x1="589.6" y1="547.4" x2="589.6" y2="552.6" stroke="#111" stroke-width="1.3" />
<text x="375.2" y="565.8" font-family="Liberation Sans" font-size="11" font-weight="bold" fill="#111" text-anchor="middle" textLength="14.2" lengthAdjust="spacingAndGlyphs" stroke="#111" stroke-width="0.3">-80</text>
<text x="402" y="565.8" font-family="Liberation Sans" font-size="11" font-weight="bold" fill="#111" text-anchor="middle" textLength="14.2" lengthAdjust="spacingAndGlyphs" stroke="#111" stroke-width="0.3">-60</text>
<text x="428.8" y="565.8" font-family="Liberation Sans" font-size="11" font-weight="bold" fill="#111" text-anchor="middle" textLength="14.2" lengthAdjust="spacingAndGlyphs" stroke="#111" stroke-width="0.3">-40</text>
<text x="455.6" y="565.8" font-family="Liberation Sans" font-size="11" font-weight="bold" fill="#111" text-anchor="middle" textLength="14.2" lengthAdjust="spacingAndGlyphs" stroke="#111" stroke-width="0.3">-20</text>
<text x="482.4" y="565.8" font-family="Liberation Sans" font-size="11" font-weight="bold" fill="#111" text-anchor="middle" textLength="4.8" lengthAdjust="spacingAndGlyphs" stroke="#111" stroke-width="0.3">0</text>
<text x="509.2" y="565.8" font-family="Liberation Sans" font-size="11" font-weight="bold" fill="#111" text-anchor="middle" textLength="9.6" lengthAdjust="spacingAndGlyphs" stroke="#111" stroke-width="0.3">20</text>
<text x="536" y="565.8" font-family="Liberation Sans" font-size="11" font-weight="bold" fill="#111" text-anchor="middle" textLength="9.6" lengthAdjust="spacingAndGlyphs" stroke="#111" stroke-width="0.3">40</text>
<text x="562.8" y="565.8" font-family="Liberation Sans" font-size="11" font-weight="bold" fill="#111" text-anchor="middle" textLength="9.6" lengthAdjust="spacingAndGlyphs" stroke="#111" stroke-width="0.3">60</text>
<text x="589.6" y="565.8" font-family="Liberation Sans" font-size="11" font-weight="bold" fill="#111" text-anchor="middle" textLength="9.6" lengthAdjust="spacingAndGlyphs" stroke="#111" stroke-width="0.3">80</text>
<text x="463.3" y="591.6" font-family="Liberation Sans" font-size="13.5" font-weight="normal" fill="#111" text-anchor="start" textLength="38.4" lengthAdjust="spacingAndGlyphs" >V(mV)</text>
<text transform="translate(442.1,485.8) rotate(-90)" font-family="Liberation Sans" font-size="13.6" font-weight="normal" fill="#111" textLength="84.5" lengthAdjust="spacingAndGlyphs">I normalized</text>
<line x1="415.4" y1="530.4" x2="415.4" y2="544" stroke="#0a0af0" stroke-width="2.9" />
<line x1="411.7" y1="530.4" x2="419.1" y2="530.4" stroke="#0a0af0" stroke-width="2.6" />
<line x1="411.7" y1="544" x2="419.1" y2="544" stroke="#0a0af0" stroke-width="2.6" />
<line x1="428.8" y1="529.4" x2="428.8" y2="542.7" stroke="#0a0af0" stroke-width="2.9" />
<line x1="425.1" y1="529.4" x2="432.5" y2="529.4" stroke="#0a0af0" stroke-width="2.6" />
<line x1="425.1" y1="542.7" x2="432.5" y2="542.7" stroke="#0a0af0" stroke-width="2.6" />
<line x1="442.2" y1="524.7" x2="442.2" y2="540.8" stroke="#0a0af0" stroke-width="2.9" />
<line x1="438.5" y1="524.7" x2="445.9" y2="524.7" stroke="#0a0af0" stroke-width="2.6" />
<line x1="438.5" y1="540.8" x2="445.9" y2="540.8" stroke="#0a0af0" stroke-width="2.6" />
<line x1="455.6" y1="516.7" x2="455.6" y2="539.9" stroke="#0a0af0" stroke-width="2.9" />
<line x1="451.9" y1="516.7" x2="459.3" y2="516.7" stroke="#0a0af0" stroke-width="2.6" />
<line x1="451.9" y1="539.9" x2="459.3" y2="539.9" stroke="#0a0af0" stroke-width="2.6" />
<line x1="469" y1="510.4" x2="469" y2="537" stroke="#0a0af0" stroke-width="2.9" />
<line x1="465.3" y1="510.4" x2="472.7" y2="510.4" stroke="#0a0af0" stroke-width="2.6" />
<line x1="465.3" y1="537" x2="472.7" y2="537" stroke="#0a0af0" stroke-width="2.6" />
<line x1="482.4" y1="500.4" x2="482.4" y2="533.9" stroke="#0a0af0" stroke-width="2.9" />
<line x1="478.7" y1="500.4" x2="486.1" y2="500.4" stroke="#0a0af0" stroke-width="2.6" />
<line x1="478.7" y1="533.9" x2="486.1" y2="533.9" stroke="#0a0af0" stroke-width="2.6" />
<line x1="495.8" y1="495.8" x2="495.8" y2="530.1" stroke="#0a0af0" stroke-width="2.9" />
<line x1="492.1" y1="495.8" x2="499.5" y2="495.8" stroke="#0a0af0" stroke-width="2.6" />
<line x1="492.1" y1="530.1" x2="499.5" y2="530.1" stroke="#0a0af0" stroke-width="2.6" />
<line x1="509.2" y1="488.3" x2="509.2" y2="526.3" stroke="#0a0af0" stroke-width="2.9" />
<line x1="505.5" y1="488.3" x2="512.9" y2="488.3" stroke="#0a0af0" stroke-width="2.6" />
<line x1="505.5" y1="526.3" x2="512.9" y2="526.3" stroke="#0a0af0" stroke-width="2.6" />
<line x1="522.6" y1="477.9" x2="522.6" y2="520.8" stroke="#0a0af0" stroke-width="2.9" />
<line x1="518.9" y1="477.9" x2="526.3" y2="477.9" stroke="#0a0af0" stroke-width="2.6" />
<line x1="518.9" y1="520.8" x2="526.3" y2="520.8" stroke="#0a0af0" stroke-width="2.6" />
<line x1="536" y1="462.4" x2="536" y2="514.3" stroke="#0a0af0" stroke-width="2.9" />
<line x1="532.3" y1="462.4" x2="539.7" y2="462.4" stroke="#0a0af0" stroke-width="2.6" />
<line x1="532.3" y1="514.3" x2="539.7" y2="514.3" stroke="#0a0af0" stroke-width="2.6" />
<line x1="549.4" y1="449.7" x2="549.4" y2="504.9" stroke="#0a0af0" stroke-width="2.9" />
<line x1="545.7" y1="449.7" x2="553.1" y2="449.7" stroke="#0a0af0" stroke-width="2.6" />
<line x1="545.7" y1="504.9" x2="553.1" y2="504.9" stroke="#0a0af0" stroke-width="2.6" />
<line x1="562.8" y1="437.6" x2="562.8" y2="494.9" stroke="#0a0af0" stroke-width="2.9" />
<line x1="559.1" y1="437.6" x2="566.5" y2="437.6" stroke="#0a0af0" stroke-width="2.6" />
<line x1="559.1" y1="494.9" x2="566.5" y2="494.9" stroke="#0a0af0" stroke-width="2.6" />
<line x1="576.2" y1="417.1" x2="576.2" y2="481.5" stroke="#0a0af0" stroke-width="2.9" />
<line x1="572.5" y1="417.1" x2="579.9" y2="417.1" stroke="#0a0af0" stroke-width="2.6" />
<line x1="572.5" y1="481.5" x2="579.9" y2="481.5" stroke="#0a0af0" stroke-width="2.6" />
<line x1="589.6" y1="394.4" x2="589.6" y2="461.7" stroke="#0a0af0" stroke-width="2.9" />
<line x1="585.9" y1="394.4" x2="593.3" y2="394.4" stroke="#0a0af0" stroke-width="2.6" />
<line x1="585.9" y1="461.7" x2="593.3" y2="461.7" stroke="#0a0af0" stroke-width="2.6" />
<polyline points="375.2,547.4 388.6,545.2 402,542.7 415.4,538 428.8,536.4 442.2,533.8 455.6,528.5 469,523.7 482.4,517.2 495.8,513 509.2,507.1 522.6,499.6 536,488.3 549.4,477.5 562.8,466.4 576.2,449.2 589.6,428.1" fill="none" stroke="#0a0af0" stroke-width="2.0" stroke-linejoin="miter" />
<rect x="372.2" y="544.4" width="6" height="6" fill="#0a0af0"/>
<rect x="385.6" y="542.2" width="6" height="6" fill="#0a0af0"/>
<rect x="399" y="539.7" width="6" height="6" fill="#0a0af0"/>
<rect x="412.4" y="535" width="6" height="6" fill="#0a0af0"/>
<rect x="425.8" y="533.4" width="6" height="6" fill="#0a0af0"/>
<rect x="439.2" y="530.8" width="6" height="6" fill="#0a0af0"/>
<rect x="452.6" y="525.5" width="6" height="6" fill="#0a0af0"/>
<rect x="466" y="520.7" width="6" height="6" fill="#0a0af0"/>
<rect x="479.4" y="514.2" width="6" height="6" fill="#0a0af0"/>
<rect x="492.8" y="510" width="6" height="6" fill="#0a0af0"/>
<rect x="506.2" y="504.1" width="6" height="6" fill="#0a0af0"/>
<rect x="519.6" y="496.6" width="6" height="6" fill="#0a0af0"/>
<rect x="533" y="485.3" width="6" height="6" fill="#0a0af0"/>
<rect x="546.4" y="474.5" width="6" height="6" fill="#0a0af0"/>
<rect x="559.8" y="463.4" width="6" height="6" fill="#0a0af0"/>
<rect x="573.2" y="446.2" width="6" height="6" fill="#0a0af0"/>
<rect x="586.6" y="425.1" width="6" height="6" fill="#0a0af0"/>
<line x1="603.5" y1="392.9" x2="619.4" y2="392.9" stroke="#f7a040" stroke-width="1.6" />
<circle cx="611.5" cy="392.9" r="2.6" fill="#f7a040"/>
<line x1="603.5" y1="411.9" x2="619.4" y2="411.9" stroke="#0a0af0" stroke-width="2" />
<rect x="608.7" y="408.9" width="6" height="6" fill="#0a0af0"/>
<text x="623.1" y="398" font-family="Liberation Sans" font-size="11" font-weight="normal" fill="#222" text-anchor="start" textLength="55.2" lengthAdjust="spacingAndGlyphs" >No-Sinapine</text>
<text x="623.1" y="414" font-family="Liberation Sans" font-size="11" font-weight="normal" fill="#222" text-anchor="start" textLength="59.7" lengthAdjust="spacingAndGlyphs" >Add-Sinapine</text></svg>
</body></html>
